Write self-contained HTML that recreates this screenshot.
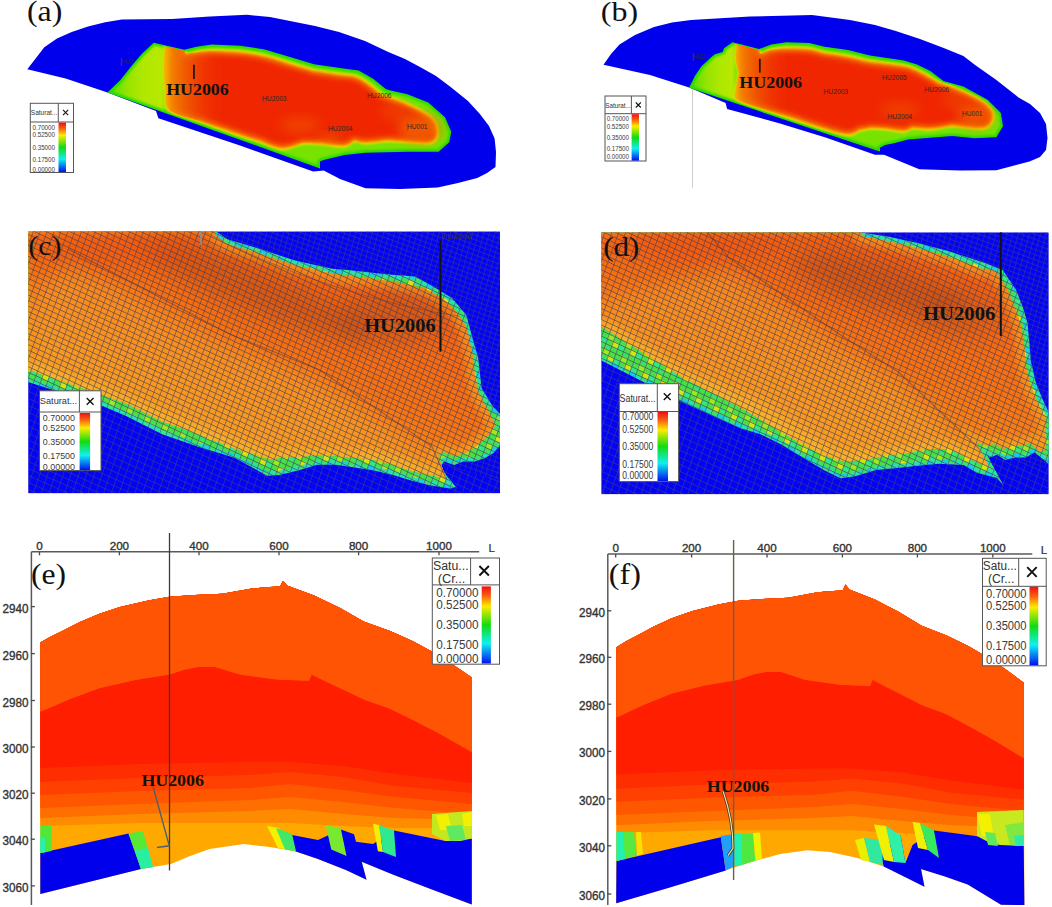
<!DOCTYPE html>
<html><head><meta charset="utf-8"><title>Saturation panels</title>
<style>html,body{margin:0;padding:0;background:#fff;} body{width:1052px;height:907px;overflow:hidden;} svg{display:block;}</style>
</head><body>
<svg width="1052" height="907" viewBox="0 0 1052 907">
<defs>
<linearGradient id="cbar" x1="0" y1="0" x2="0" y2="1">
 <stop offset="0" stop-color="#f01010"/>
 <stop offset="0.12" stop-color="#f86010"/>
 <stop offset="0.26" stop-color="#fcec00"/>
 <stop offset="0.5" stop-color="#10dc10"/>
 <stop offset="0.74" stop-color="#10f0f0"/>
 <stop offset="1" stop-color="#0010f0"/>
</linearGradient>
<filter id="blur1" x="-10%" y="-10%" width="120%" height="120%"><feGaussianBlur stdDeviation="1"/></filter>
<filter id="blur2" x="-10%" y="-10%" width="120%" height="120%"><feGaussianBlur stdDeviation="2"/></filter>
<filter id="blur3" x="-10%" y="-10%" width="120%" height="120%"><feGaussianBlur stdDeviation="3"/></filter>
<filter id="blur6" x="-30%" y="-30%" width="160%" height="160%"><feGaussianBlur stdDeviation="6"/></filter>
<filter id="blur10" x="-50%" y="-50%" width="200%" height="200%"><feGaussianBlur stdDeviation="10"/></filter>
<linearGradient id="ovga" gradientUnits="userSpaceOnUse" x1="108" y1="0" x2="166" y2="0"><stop offset="0" stop-color="#30d800"/><stop offset="0.12" stop-color="#68e000"/><stop offset="0.35" stop-color="#98e400"/><stop offset="0.6" stop-color="#b0e800"/><stop offset="0.93" stop-color="#b8e800"/><stop offset="1" stop-color="#78e200"/></linearGradient><clipPath id="coreclipa"><path d="M323.2,158.8 L323.4,158.7 L344.3,153.6 L344.5,153.6 L365.4,151.5 L365.5,151.5 L407.4,150.4 L407.4,150.4 L438.2,150.4 L448.0,141.6 L449.9,131.9 L443.9,118.0 L427.6,103.7 L407.0,95.4 L390.3,91.8 L390.2,91.7 L385.4,90.2 L385.0,90.0 L372.8,80.1 L358.2,71.7 L339.8,69.3 L339.8,69.3 L313.8,65.6 L313.6,65.5 L289.6,58.2 L264.4,50.7 L239.9,47.0 L211.8,45.7 L196.8,48.0 L184.6,51.1 L184.0,51.1 L154.2,44.1 L142.6,55.0 L133.5,65.6 L121.4,80.8 L121.3,80.9 L109.9,91.9 L318.7,166.6 L318.7,161.5 L318.8,161.0 L319.1,160.6 L319.5,160.3Z"/></clipPath><linearGradient id="glowa" gradientUnits="userSpaceOnUse" x1="165" y1="0" x2="225" y2="0"><stop offset="0" stop-color="#f6b000" stop-opacity="1"/><stop offset="0.12" stop-color="#f48800" stop-opacity="0.9"/><stop offset="0.45" stop-color="#f06400" stop-opacity="0.6"/><stop offset="1" stop-color="#f03000" stop-opacity="0"/></linearGradient><clipPath id="cclipa"><path d="M166.4,37.9 C163.6,39.2 165.8,45.1 165.5,50.1 C165.2,55.1 164.4,61.2 164.5,68.0 C164.6,74.7 165.1,83.6 166.0,90.6 C166.9,97.6 164.1,105.1 169.8,110.2 C175.6,115.3 195.4,119.3 200.5,121.1 C205.6,122.9 193.8,118.7 200.5,121.1 C207.2,123.5 230.5,132.0 240.5,135.4 C250.5,138.8 257.1,140.5 260.4,141.6 C263.8,142.6 256.9,140.4 260.5,141.6 C264.0,142.8 274.9,148.3 281.9,148.6 C288.8,148.9 298.9,144.2 302.4,143.3 C305.9,142.5 299.3,143.2 302.8,143.3 C306.4,143.4 320.2,143.8 323.7,143.9 C327.2,144.0 320.4,143.6 323.8,143.9 C327.3,144.3 339.2,146.5 344.3,146.0 C349.4,145.5 352.6,141.8 354.3,141.0 C356.1,140.1 354.6,140.8 354.8,140.8 C355.0,140.8 353.5,140.5 355.3,140.8 C357.1,141.2 360.4,142.9 365.6,142.9 C370.7,142.9 382.8,141.2 386.3,140.8 C389.7,140.5 382.9,140.6 386.5,140.8 C390.0,141.0 404.0,141.6 407.5,141.8 C411.0,142.0 404.1,141.6 407.5,141.8 C410.9,142.0 423.3,143.3 428.0,142.9 C432.6,142.4 433.9,141.0 435.4,139.2 C436.9,137.3 437.5,135.0 437.1,131.9 C436.8,128.7 435.6,123.5 433.3,120.2 C431.0,116.9 427.6,115.0 423.2,112.3 C418.8,109.6 412.3,106.4 406.8,104.0 C401.3,101.6 394.2,99.1 390.1,97.7 C386.1,96.3 383.9,95.9 382.6,95.4 C381.2,95.0 384.1,96.9 382.0,95.2 C380.0,93.5 374.4,88.3 370.1,85.2 C365.9,82.2 361.5,78.7 356.5,76.9 C351.4,75.1 342.6,74.9 339.8,74.5 C337.0,74.1 344.1,75.1 339.8,74.5 C335.4,73.8 318.1,71.2 313.8,70.5 C309.4,69.8 317.6,71.6 313.6,70.4 C309.5,69.3 293.6,64.6 289.6,63.4 C285.6,62.3 293.7,64.7 289.6,63.4 C285.4,62.2 273.0,57.9 264.7,56.0 C256.4,54.1 248.6,52.8 239.9,52.0 C231.1,51.2 219.2,50.9 212.0,51.0 C204.9,51.1 201.4,52.0 197.2,52.5 C193.0,53.0 188.6,53.8 186.7,54.1 C184.9,54.3 186.4,54.1 186.2,54.1 C186.0,54.0 185.8,54.0 185.7,53.9 C185.6,53.8 185.4,53.6 185.3,53.5 C185.2,53.4 185.6,54.9 185.1,53.0 C184.5,51.2 184.9,44.7 181.8,42.2 C178.7,39.7 169.1,36.6 166.4,37.9Z"/></clipPath><linearGradient id="ovgb" gradientUnits="userSpaceOnUse" x1="689" y1="0" x2="736" y2="0"><stop offset="0" stop-color="#30d800"/><stop offset="0.12" stop-color="#68e000"/><stop offset="0.4" stop-color="#98e400"/><stop offset="0.7" stop-color="#b0e800"/><stop offset="0.93" stop-color="#b8e800"/><stop offset="1" stop-color="#78e200"/></linearGradient><clipPath id="coreclipb"><path d="M876.2,149.0 L876.2,149.0 L878.7,149.8 L878.7,147.8 L878.8,147.4 L879.0,147.0 L879.4,146.7 L884.4,143.9 L884.8,143.7 L893.7,142.0 L907.9,138.1 L908.1,138.1 L952.2,134.8 L952.4,134.8 L974.4,137.0 L995.6,135.9 L1001.6,125.9 L999.7,113.5 L986.8,100.8 L962.9,87.7 L943.2,82.3 L942.7,82.0 L929.6,72.1 L916.5,65.6 L903.5,61.8 L869.8,56.8 L869.7,56.8 L847.8,51.3 L824.3,48.0 L824.2,48.0 L809.1,44.3 L786.6,43.5 L771.6,45.7 L759.5,50.2 L759.1,50.3 L758.7,50.3 L732.8,43.6 L725.1,49.1 L723.8,52.5 L723.5,52.9 L723.0,53.2 L715.6,55.5 L712.8,57.6 L702.3,67.4 L696.3,76.3 L690.9,87.0 L875.6,148.8 L875.6,148.8Z"/></clipPath><linearGradient id="glowb" gradientUnits="userSpaceOnUse" x1="735" y1="0" x2="790" y2="0"><stop offset="0" stop-color="#f6b000" stop-opacity="1"/><stop offset="0.12" stop-color="#f48800" stop-opacity="0.9"/><stop offset="0.45" stop-color="#f06400" stop-opacity="0.6"/><stop offset="1" stop-color="#f03000" stop-opacity="0"/></linearGradient><clipPath id="cclipb"><path d="M737.4,37.9 C734.3,38.8 737.1,46.4 737.0,48.1 C736.9,49.8 737.1,46.1 737.0,48.1 C736.9,50.1 735.9,56.2 736.3,60.3 C736.7,64.3 738.8,70.1 739.3,72.2 C739.8,74.3 739.8,69.8 739.3,72.8 C738.8,75.9 736.3,86.1 736.3,90.7 C736.3,95.3 731.9,96.4 739.2,100.3 C746.6,104.3 766.0,109.7 780.5,114.6 C794.9,119.4 814.7,126.0 826.0,129.4 C837.3,132.7 842.8,134.4 848.3,134.6 C853.9,134.8 857.4,131.3 859.3,130.6 C861.1,129.9 857.6,130.9 859.5,130.5 C861.5,130.1 869.0,128.6 871.0,128.2 C873.0,127.8 868.8,128.1 871.4,128.2 C873.9,128.3 883.8,129.0 886.3,129.1 C888.8,129.3 883.5,128.8 886.4,129.1 C889.3,129.5 899.3,131.4 903.6,131.3 C907.9,131.1 910.6,128.6 912.1,128.1 C913.6,127.6 909.7,127.8 912.7,128.0 C915.7,128.2 923.7,129.5 930.2,129.1 C936.8,128.7 948.4,126.4 952.1,125.8 C955.8,125.3 948.7,125.4 952.4,125.8 C956.2,126.2 968.7,127.8 974.4,128.0 C980.1,128.2 983.8,128.4 986.8,127.0 C989.8,125.5 992.0,122.1 992.6,119.1 C993.2,116.2 993.1,112.7 990.6,109.3 C988.2,105.9 984.5,102.5 978.0,98.8 C971.5,95.0 958.3,89.5 951.7,86.8 C945.2,84.1 940.9,83.2 938.6,82.4 C936.4,81.7 940.6,83.6 938.3,82.3 C936.1,81.0 929.2,76.7 925.2,74.5 C921.2,72.3 917.9,70.5 914.2,69.1 C910.6,67.7 910.9,67.1 903.5,65.9 C896.1,64.6 875.4,62.2 869.8,61.5 C864.2,60.8 873.3,62.3 869.7,61.5 C866.0,60.6 855.4,57.9 847.7,56.5 C840.1,55.0 827.8,53.3 823.8,52.7 C819.8,52.0 826.1,53.3 823.6,52.7 C821.1,52.0 815.0,49.7 808.8,49.0 C802.6,48.3 792.8,48.1 786.6,48.3 C780.3,48.5 775.5,49.2 771.4,50.1 C767.2,51.0 763.3,53.1 761.5,53.7 C759.8,54.3 761.1,53.8 760.9,53.8 C760.7,53.8 760.5,53.7 760.4,53.7 C760.2,53.6 760.0,53.5 759.9,53.3 C759.8,53.2 760.3,54.6 759.6,52.8 C758.9,51.0 759.6,44.8 755.9,42.3 C752.2,39.8 740.6,36.9 737.4,37.9Z"/></clipPath>
<pattern id="gridO" width="6.5" height="5.0" patternUnits="userSpaceOnUse" patternTransform="rotate(25) skewX(5)">
 <path d="M0,0 H6.5 M0,0 V5.0" stroke="#3e3858" stroke-width="1.2" fill="none" opacity="0.85"/>
</pattern>
<pattern id="gridB" width="5.4" height="4.8" patternUnits="userSpaceOnUse" patternTransform="rotate(20) skewX(5)">
 <path d="M0,0 H5.4 M0,0 V4.8" stroke="#4a4a66" stroke-width="0.9" fill="none" opacity="0.85"/>
</pattern>
<pattern id="gridB2" width="7.4" height="6.4" patternUnits="userSpaceOnUse" patternTransform="rotate(24) skewX(5)">
 <path d="M0,0 H7.4 M0,0 V6.4" stroke="#4e4e68" stroke-width="1" fill="none" opacity="0.85"/>
</pattern>
<pattern id="bandP" width="19.5" height="15" patternUnits="userSpaceOnUse" patternTransform="rotate(25) skewX(5)">
 <rect width="19.5" height="15" fill="#28e0b0"/>
 <rect x="0" y="0" width="6.5" height="5" fill="#40e070"/>
 <rect x="13" y="0" width="6.5" height="5" fill="#18d0e0"/>
 <rect x="6.5" y="5" width="6.5" height="5" fill="#30e890"/>
 <rect x="0" y="10" width="6.5" height="5" fill="#18c8e8"/>
 <rect x="13" y="10" width="6.5" height="5" fill="#40e070"/>
</pattern>
<pattern id="bandQ" width="19.5" height="15" patternUnits="userSpaceOnUse" patternTransform="rotate(25) skewX(5)">
 <rect width="19.5" height="15" fill="#48e048"/>
 <rect x="6.5" y="0" width="6.5" height="5" fill="#a0e820"/>
 <rect x="0" y="5" width="6.5" height="5" fill="#30e888"/>
 <rect x="13" y="5" width="6.5" height="5" fill="#d8e410"/>
 <rect x="6.5" y="10" width="6.5" height="5" fill="#38e070"/>
</pattern>
<linearGradient id="surfC" gradientUnits="userSpaceOnUse" x1="300" y1="250" x2="220" y2="480">
 <stop offset="0" stop-color="#f46010"/>
 <stop offset="0.45" stop-color="#f67212"/>
 <stop offset="0.8" stop-color="#f88e18"/>
 <stop offset="1" stop-color="#f8a822"/>
</linearGradient>
<linearGradient id="surfD" gradientUnits="userSpaceOnUse" x1="860" y1="240" x2="800" y2="480">
 <stop offset="0" stop-color="#f46010"/>
 <stop offset="0.45" stop-color="#f67212"/>
 <stop offset="0.8" stop-color="#f88e18"/>
 <stop offset="1" stop-color="#f8a822"/>
</linearGradient>
<clipPath id="clipc"><rect x="28.3" y="231.5" width="471.7" height="261.8"/></clipPath><clipPath id="sclipc"><path d="M20.0,225.0 L216.0,225.0 L216.0,235.0 L226.0,243.5 L256.0,252.5 L294.0,265.0 L332.0,273.5 L350.0,276.0 L370.0,278.5 L393.7,281.8 L422.8,287.7 L440.2,296.4 L454.8,309.5 L466.4,327.0 L469.6,340.0 L473.0,357.0 L474.7,374.0 L478.1,391.3 L485.0,405.0 L491.8,417.0 L495.3,425.5 L488.4,435.8 L476.4,446.0 L466.2,452.9 L454.2,456.0 L444.0,452.0 L438.0,455.0 L446.3,478.9 L431.0,475.1 L412.0,471.3 L393.0,464.7 L374.0,460.0 L355.0,458.0 L336.0,456.1 L317.0,455.2 L298.0,457.1 L279.0,458.0 L270.6,459.5 L234.5,448.6 L198.4,434.2 L162.2,421.5 L126.1,403.5 L100.8,394.4 L28.0,369.8 L20.0,367.0Z"/></clipPath><clipPath id="clipd"><rect x="601.4" y="232.4" width="447.19999999999993" height="261.79999999999995"/></clipPath><clipPath id="sclipd"><path d="M590.0,225.0 L861.8,225.0 L861.8,236.0 L890.0,241.5 L917.0,248.0 L946.0,256.0 L981.0,268.5 L996.0,271.0 L1007.7,289.8 L1016.0,309.7 L1021.0,326.2 L1024.2,346.0 L1025.9,365.9 L1030.8,385.7 L1037.5,402.3 L1044.0,415.5 L1046.0,418.0 L1046.0,450.0 L1040.0,452.0 L1030.0,443.0 L1022.0,446.0 L1012.0,446.0 L1003.0,449.0 L994.0,444.0 L986.0,446.0 L976.0,442.0 L992.0,472.0 L988.0,466.0 L974.0,461.0 L960.0,454.0 L949.2,449.0 L928.3,449.0 L907.4,453.2 L886.4,455.3 L865.5,459.5 L844.6,461.6 L823.7,455.3 L802.8,444.8 L781.8,432.3 L761.0,419.7 L740.0,407.2 L682.6,377.5 L601.4,326.5 L590.0,322.0Z"/></clipPath></defs>
<rect width="1052" height="907" fill="#fff"/>
<path d="M27.3,69.3 L36.0,58.0 L44.3,47.3 L57.0,38.5 L71.7,32.0 L88.0,26.5 L105.2,22.2 L121.9,19.4 L172.0,19.1 L210.0,16.5 L247.0,14.8 L270.0,17.0 L290.0,21.0 L315.0,26.0 L339.0,32.1 L365.0,41.0 L388.3,51.9 L405.0,59.0 L420.0,67.0 L436.0,76.0 L450.0,86.5 L468.0,101.0 L479.7,113.7 L489.0,126.0 L494.6,138.4 L496.0,152.0 L495.5,167.0 L487.0,173.0 L477.3,178.0 L458.0,183.0 L437.7,187.5 L400.0,189.0 L365.5,188.3 L340.0,179.0 L323.7,170.5 L313.2,171.6 L240.0,145.4 L158.4,118.2 L156.0,111.0 L107.5,92.6 L65.6,78.4Z" fill="#0000ec" />
<path d="M323.7,160.0 L344.6,154.9 L365.5,152.8 L407.4,151.7 L438.7,151.7 L449.2,142.3 L451.3,131.8 L445.0,117.2 L428.3,102.6 L407.4,94.2 L390.6,90.5 L385.8,89.0 L373.5,79.0 L358.6,70.4 L340.0,68.0 L314.0,64.3 L290.0,57.0 L264.7,49.4 L240.0,45.7 L211.7,44.4 L196.5,46.7 L184.3,49.8 L153.8,42.7 L141.7,54.1 L132.5,64.8 L120.4,80.0 L107.5,92.4 L320.0,168.4 L320.0,161.5Z" fill="#28dc00" />
<path d="M322.7,157.6 L323.1,157.5 L344.0,152.4 L344.3,152.3 L365.2,150.2 L365.4,150.2 L407.3,149.1 L407.4,149.1 L437.7,149.1 L446.8,140.9 L448.6,132.1 L442.8,118.8 L426.9,104.8 L406.6,96.7 L390.0,93.0 L389.8,93.0 L385.0,91.5 L384.2,91.0 L372.0,81.1 L357.8,72.9 L339.7,70.6 L339.6,70.6 L313.6,66.9 L313.2,66.8 L289.2,59.5 L264.1,51.9 L239.7,48.3 L211.8,47.0 L197.0,49.3 L184.9,52.3 L183.7,52.3 L154.6,45.5 L143.6,55.9 L134.5,66.5 L122.4,81.6 L122.2,81.9 L112.3,91.4 L317.4,164.7 L317.4,161.5 L317.6,160.5 L318.2,159.7 L319.0,159.1Z" fill="url(#ovga)" filter="url(#blur1)"/>
<g clip-path="url(#coreclipa)">
<path d="M165.0,36.0 C168.2,34.5 179.4,38.2 183.0,41.0 C186.6,43.8 184.2,50.9 186.5,52.6 C188.8,54.3 192.8,51.5 197.0,51.0 C201.2,50.5 204.8,49.6 212.0,49.5 C219.2,49.4 231.2,49.7 240.0,50.5 C248.8,51.3 256.7,52.6 265.0,54.5 C273.3,56.4 281.8,59.6 290.0,62.0 C298.2,64.4 305.7,67.2 314.0,69.0 C322.3,70.8 332.8,71.9 340.0,73.0 C347.2,74.1 351.8,73.7 357.0,75.5 C362.2,77.3 366.7,80.9 371.0,84.0 C375.3,87.1 379.7,92.0 383.0,94.0 C386.3,96.0 386.5,94.9 390.6,96.3 C394.7,97.7 401.8,100.1 407.4,102.6 C413.0,105.0 419.5,108.2 424.0,111.0 C428.5,113.8 432.2,115.8 434.6,119.3 C437.1,122.8 438.4,128.3 438.7,131.8 C439.0,135.3 438.4,138.1 436.7,140.2 C435.0,142.3 433.2,143.9 428.3,144.4 C423.4,144.9 414.4,143.7 407.4,143.3 C400.4,143.0 393.4,142.1 386.4,142.3 C379.4,142.5 370.7,144.4 365.5,144.4 C360.3,144.4 358.5,141.8 355.0,142.3 C351.5,142.8 349.8,147.0 344.6,147.5 C339.4,148.0 330.7,145.8 323.7,145.4 C316.7,145.0 309.8,144.0 302.8,144.8 C295.8,145.6 288.9,150.5 281.8,150.2 C274.7,149.9 267.0,145.2 260.0,143.0 C253.0,140.8 250.0,140.2 240.0,136.8 C230.0,133.4 211.9,126.8 200.0,122.5 C188.1,118.2 174.4,116.6 168.5,111.3 C162.6,106.0 165.4,98.0 164.5,90.8 C163.6,83.6 163.1,74.8 163.0,68.0 C162.9,61.2 163.7,55.3 164.0,50.0 C164.3,44.7 161.8,37.5 165.0,36.0Z" fill="#f4e000" filter="url(#blur1)"/>
<path d="M166.5,38.1 C163.8,39.4 165.9,45.1 165.6,50.1 C165.3,55.1 164.5,61.2 164.6,68.0 C164.7,74.7 165.2,83.6 166.1,90.6 C167.0,97.6 164.2,105.0 169.9,110.1 C175.6,115.2 195.4,119.2 200.5,121.0 C205.6,122.8 193.9,118.6 200.5,121.0 C207.2,123.4 230.5,131.9 240.5,135.3 C250.5,138.7 257.1,140.4 260.5,141.5 C263.8,142.5 256.9,140.3 260.5,141.5 C264.1,142.7 274.9,148.2 281.9,148.5 C288.8,148.8 298.9,144.1 302.4,143.3 C305.9,142.4 299.3,143.1 302.8,143.2 C306.4,143.3 320.2,143.7 323.7,143.8 C327.2,143.9 320.4,143.5 323.9,143.8 C327.3,144.2 339.2,146.4 344.3,145.9 C349.4,145.4 352.5,141.7 354.3,140.9 C356.0,140.0 354.6,140.7 354.8,140.7 C355.0,140.7 353.5,140.4 355.3,140.7 C357.1,141.1 360.4,142.8 365.6,142.8 C370.7,142.8 382.8,141.1 386.2,140.7 C389.7,140.4 382.9,140.5 386.5,140.7 C390.0,140.9 404.0,141.5 407.5,141.7 C411.0,141.9 404.1,141.5 407.5,141.7 C410.9,141.9 423.3,143.2 428.0,142.8 C432.6,142.3 433.8,140.9 435.3,139.1 C436.8,137.3 437.4,135.0 437.0,131.9 C436.7,128.7 435.5,123.5 433.2,120.3 C430.9,117.0 427.5,115.1 423.1,112.4 C418.7,109.7 412.3,106.5 406.8,104.1 C401.2,101.6 394.1,99.2 390.1,97.8 C386.1,96.4 383.9,96.0 382.5,95.5 C381.2,95.1 384.1,96.9 382.0,95.2 C379.9,93.5 374.3,88.3 370.1,85.3 C365.8,82.3 361.5,78.8 356.4,77.0 C351.4,75.2 342.5,75.0 339.8,74.6 C337.0,74.2 344.1,75.2 339.8,74.6 C335.4,73.9 318.1,71.3 313.8,70.6 C309.4,69.9 317.6,71.7 313.6,70.5 C309.5,69.4 293.6,64.7 289.6,63.5 C285.6,62.4 293.7,64.8 289.5,63.5 C285.4,62.3 272.9,58.0 264.6,56.1 C256.4,54.2 248.6,52.9 239.8,52.1 C231.1,51.3 219.2,51.0 212.1,51.1 C204.9,51.2 201.4,52.1 197.2,52.6 C193.0,53.1 188.6,53.9 186.7,54.2 C184.9,54.4 186.4,54.2 186.2,54.2 C186.0,54.1 185.8,54.1 185.6,54.0 C185.5,53.9 185.3,53.7 185.2,53.6 C185.1,53.4 185.6,54.9 185.0,53.1 C184.4,51.2 184.8,44.8 181.7,42.3 C178.6,39.8 169.1,36.8 166.5,38.1Z" fill="#f6a000" filter="url(#blur1)"/>
<path d="M167.7,39.9 C165.5,41.0 167.3,45.5 167.0,50.2 C166.7,54.9 165.9,61.3 166.0,68.0 C166.1,74.7 166.6,83.6 167.5,90.4 C168.3,97.3 165.5,104.2 171.1,109.0 C176.7,113.9 196.0,117.9 201.0,119.7 C206.0,121.4 194.4,117.3 201.0,119.7 C207.7,122.1 231.0,130.5 240.9,134.0 C250.9,137.4 257.6,139.1 260.9,140.1 C264.2,141.2 257.4,139.0 260.9,140.2 C264.4,141.3 275.1,146.8 281.9,147.1 C288.8,147.4 298.6,142.8 302.1,141.9 C305.5,141.0 299.3,141.7 302.9,141.8 C306.5,141.9 320.3,142.3 323.8,142.4 C327.3,142.5 320.6,142.1 324.0,142.4 C327.4,142.8 339.1,144.9 344.0,144.4 C349.0,144.0 351.9,140.5 353.7,139.6 C355.4,138.8 354.3,139.4 354.6,139.3 C354.9,139.3 353.7,139.0 355.6,139.4 C357.4,139.7 360.6,141.4 365.6,141.4 C370.7,141.4 382.6,139.7 386.1,139.3 C389.6,139.0 383.0,139.1 386.5,139.3 C390.1,139.5 404.0,140.1 407.5,140.3 C411.0,140.5 404.2,140.1 407.6,140.3 C410.9,140.5 423.2,141.7 427.7,141.4 C432.1,141.0 432.8,139.7 434.1,138.1 C435.4,136.6 435.9,134.8 435.6,131.9 C435.2,129.1 434.2,124.2 432.0,121.1 C429.8,118.0 426.7,116.2 422.4,113.5 C418.1,110.9 411.6,107.8 406.2,105.4 C400.7,103.0 393.6,100.6 389.6,99.1 C385.6,97.7 383.6,97.3 382.1,96.9 C380.7,96.4 383.2,98.0 381.1,96.3 C378.9,94.6 373.4,89.4 369.3,86.4 C365.1,83.5 360.9,80.1 356.0,78.4 C351.0,76.6 342.3,76.4 339.6,76.0 C336.8,75.6 343.9,76.6 339.5,76.0 C335.2,75.3 317.9,72.6 313.5,72.0 C309.1,71.3 317.2,73.1 313.2,71.9 C309.1,70.7 293.2,66.0 289.2,64.9 C285.2,63.7 293.3,66.1 289.1,64.9 C285.0,63.6 272.6,59.3 264.3,57.4 C256.1,55.5 248.4,54.3 239.7,53.5 C231.0,52.7 219.2,52.4 212.1,52.5 C205.0,52.6 201.6,53.5 197.4,54.0 C193.2,54.5 188.9,55.3 187.0,55.6 C185.0,55.8 186.2,55.6 185.9,55.5 C185.5,55.5 185.2,55.3 184.9,55.1 C184.6,54.9 184.3,54.7 184.1,54.4 C183.9,54.1 184.2,55.3 183.6,53.5 C183.0,51.6 183.3,45.7 180.6,43.4 C178.0,41.2 170.0,38.7 167.7,39.9Z" fill="#f26a00" filter="url(#blur1)"/>
<path d="M170.0,43.1 C168.5,43.9 169.7,46.2 169.5,50.3 C169.2,54.5 168.4,61.3 168.5,68.0 C168.6,74.6 169.2,83.6 170.0,90.1 C170.8,96.6 168.0,102.6 173.3,107.2 C178.6,111.7 197.1,115.6 201.8,117.3 C206.6,119.0 195.2,114.9 201.9,117.3 C208.5,119.7 231.8,128.2 241.7,131.6 C251.7,135.0 258.3,136.7 261.6,137.7 C265.0,138.8 258.3,136.7 261.7,137.8 C265.1,138.9 275.4,144.2 282.0,144.5 C288.6,144.8 297.9,140.3 301.4,139.5 C304.9,138.6 299.2,139.2 303.0,139.3 C306.7,139.4 320.3,139.8 323.9,139.9 C327.4,140.0 321.0,139.6 324.2,139.9 C327.5,140.3 338.8,142.3 343.6,141.9 C348.3,141.4 350.8,138.2 352.5,137.4 C354.3,136.5 353.7,136.9 354.3,136.8 C354.9,136.8 354.2,136.6 356.1,136.9 C358.0,137.2 360.8,138.9 365.8,138.8 C370.7,138.8 382.4,137.2 385.9,136.8 C389.3,136.5 383.0,136.6 386.7,136.8 C390.3,137.0 404.2,137.6 407.7,137.8 C411.2,138.0 404.4,137.6 407.7,137.8 C410.9,138.0 423.1,139.1 427.1,138.8 C431.2,138.6 431.0,137.6 431.9,136.4 C432.9,135.3 433.3,134.3 433.0,132.0 C432.6,129.7 431.9,125.3 429.9,122.6 C427.9,119.9 425.2,118.2 421.0,115.7 C416.9,113.2 410.6,110.0 405.2,107.6 C399.8,105.3 392.8,102.9 388.8,101.5 C384.9,100.1 383.0,99.8 381.4,99.3 C379.8,98.7 381.7,100.0 379.5,98.2 C377.2,96.4 371.9,91.4 367.8,88.5 C363.7,85.6 359.9,82.5 355.1,80.8 C350.3,79.1 341.9,78.8 339.2,78.4 C336.5,78.1 343.5,79.1 339.2,78.4 C334.8,77.8 317.6,75.1 313.2,74.4 C308.7,73.7 316.6,75.5 312.5,74.3 C308.3,73.1 292.5,68.4 288.5,67.3 C284.5,66.1 292.5,68.5 288.4,67.3 C284.3,66.0 271.9,61.8 263.8,59.9 C255.6,58.0 248.1,56.8 239.5,56.0 C230.9,55.2 219.1,54.9 212.2,55.0 C205.2,55.1 201.8,56.0 197.7,56.5 C193.5,57.0 189.4,57.8 187.3,58.0 C185.3,58.3 186.0,58.1 185.4,58.0 C184.7,57.9 184.1,57.6 183.6,57.3 C183.0,56.9 182.5,56.4 182.1,55.9 C181.7,55.4 181.8,55.9 181.2,54.2 C180.6,52.4 180.5,47.3 178.6,45.5 C176.7,43.6 171.5,42.3 170.0,43.1Z" fill="#f02800" filter="url(#blur2)"/>
<ellipse cx="300" cy="125" rx="20" ry="8" fill="#f06000" opacity="0.5" filter="url(#blur6)"/>
<ellipse cx="330" cy="138" rx="12" ry="5" fill="#f07800" opacity="0.5" filter="url(#blur6)"/>
<ellipse cx="420" cy="128" rx="22" ry="14" fill="#f27000" opacity="0.7" filter="url(#blur6)"/>
<ellipse cx="395" cy="112" rx="14" ry="8" fill="#f06000" opacity="0.4" filter="url(#blur6)"/>
<rect x="163" y="0" width="62" height="200" fill="url(#glowa)" clip-path="url(#cclipa)" filter="url(#blur1)"/>
</g>
<text x="121.0" y="63.5" font-family="'Liberation Sans', sans-serif" font-size="6.6" font-weight="normal" fill="#2a2a2a" textLength="12.3" lengthAdjust="spacingAndGlyphs" >HU2</text>
<line x1="121.3" y1="58.0" x2="121.3" y2="66.0" stroke="#b03030" stroke-width="0.6" />
<text x="262.0" y="100.5" font-family="'Liberation Sans', sans-serif" font-size="6.6" font-weight="normal" fill="#2a2a2a" textLength="24.6" lengthAdjust="spacingAndGlyphs" >HU2003</text>
<line x1="262.3" y1="95.0" x2="262.3" y2="103.0" stroke="#b03030" stroke-width="0.6" />
<text x="367.0" y="97.5" font-family="'Liberation Sans', sans-serif" font-size="6.6" font-weight="normal" fill="#2a2a2a" textLength="24.6" lengthAdjust="spacingAndGlyphs" >HU2006</text>
<line x1="367.3" y1="92.0" x2="367.3" y2="100.0" stroke="#b03030" stroke-width="0.6" />
<text x="328.0" y="131.0" font-family="'Liberation Sans', sans-serif" font-size="6.6" font-weight="normal" fill="#2a2a2a" textLength="24.6" lengthAdjust="spacingAndGlyphs" >HU2004</text>
<line x1="328.3" y1="125.5" x2="328.3" y2="133.5" stroke="#b03030" stroke-width="0.6" />
<text x="407.0" y="128.5" font-family="'Liberation Sans', sans-serif" font-size="6.6" font-weight="normal" fill="#2a2a2a" textLength="20.5" lengthAdjust="spacingAndGlyphs" >HU001</text>
<line x1="407.3" y1="123.0" x2="407.3" y2="131.0" stroke="#b03030" stroke-width="0.6" />
<text x="166.2" y="95.4" font-family="'Liberation Serif', serif" font-size="15.82" font-weight="bold" fill="#111" textLength="62.5" lengthAdjust="spacingAndGlyphs" >HU2006</text>
<line x1="193.9" y1="64.7" x2="193.9" y2="79" stroke="#111" stroke-width="1.7" />
<path d="M603.5,64.8 L611.0,54.0 L619.5,44.5 L635.0,35.0 L654.0,27.0 L672.0,22.5 L691.0,20.0 L750.0,16.5 L812.0,15.0 L850.0,20.0 L875.0,25.0 L895.8,31.0 L920.0,39.0 L943.7,48.0 L963.4,56.0 L974.4,64.4 L996.4,79.9 L1018.5,97.5 L1030.0,104.0 L1040.0,113.0 L1046.0,124.0 L1047.5,138.0 L1046.0,150.0 L1040.0,157.0 L1029.5,161.5 L996.4,170.3 L960.0,170.5 L919.3,169.2 L884.0,154.8 L875.0,154.8 L825.6,137.6 L780.0,123.4 L727.1,109.0 L725.6,103.0 L689.1,87.6 L650.0,75.0Z" fill="#0000ec" />
<path d="M875.8,150.2 L875.8,150.2 L880.0,151.6 L880.0,147.8 L885.0,145.0 L894.0,143.3 L908.2,139.4 L952.3,136.1 L974.4,138.3 L996.4,137.2 L1003.0,126.2 L1000.9,112.9 L987.6,99.7 L963.4,86.5 L943.5,81.0 L930.3,71.0 L917.0,64.4 L903.8,60.5 L870.0,55.5 L848.0,50.0 L824.5,46.7 L809.3,43.0 L786.5,42.2 L771.3,44.4 L759.0,49.0 L732.5,42.2 L724.0,48.3 L722.6,52.0 L715.0,54.3 L712.0,56.6 L701.3,66.5 L695.2,75.6 L689.1,87.8 L875.2,150.0Z" fill="#28dc00" />
<path d="M876.6,147.7 L876.6,147.7 L877.4,148.0 L877.4,147.8 L877.6,146.9 L878.0,146.1 L878.7,145.6 L883.7,142.7 L884.5,142.4 L893.4,140.8 L907.5,136.9 L908.0,136.8 L952.1,133.5 L952.6,133.5 L974.5,135.7 L994.9,134.7 L1000.3,125.7 L998.5,114.1 L986.0,101.8 L962.4,88.9 L942.8,83.5 L941.9,83.1 L928.9,73.2 L916.0,66.8 L903.2,63.0 L869.6,58.1 L869.4,58.0 L847.5,52.6 L824.1,49.3 L823.9,49.2 L808.9,45.6 L786.6,44.8 L771.9,46.9 L759.9,51.4 L759.1,51.6 L758.4,51.5 L733.0,45.0 L726.2,50.0 L725.0,52.9 L724.4,53.9 L723.4,54.5 L716.2,56.7 L713.7,58.6 L703.3,68.2 L697.5,76.9 L692.8,86.3 L876.1,147.5 L876.1,147.5Z" fill="url(#ovgb)" filter="url(#blur1)"/>
<g clip-path="url(#coreclipb)">
<path d="M736.0,36.0 C739.6,34.8 752.8,38.3 757.0,41.0 C761.2,43.7 758.7,51.0 761.0,52.3 C763.3,53.6 766.8,49.5 771.0,48.6 C775.2,47.7 780.2,47.0 786.5,46.8 C792.8,46.6 802.8,46.8 809.0,47.5 C815.2,48.2 817.5,50.0 824.0,51.2 C830.5,52.5 840.3,53.5 848.0,55.0 C855.7,56.5 860.7,58.4 870.0,60.0 C879.3,61.6 896.3,63.1 903.8,64.4 C911.3,65.7 911.1,66.2 914.8,67.7 C918.5,69.2 921.8,71.0 925.9,73.2 C930.0,75.4 934.7,79.0 939.1,81.0 C943.5,83.0 945.7,82.7 952.3,85.4 C958.9,88.2 972.2,93.7 978.8,97.5 C985.4,101.3 989.4,104.8 992.0,108.5 C994.6,112.2 994.9,116.2 994.2,119.5 C993.5,122.8 990.9,126.7 987.6,128.4 C984.3,130.1 980.3,129.7 974.4,129.5 C968.5,129.3 959.6,127.1 952.3,127.3 C944.9,127.5 936.9,130.2 930.3,130.6 C923.7,131.0 917.0,129.1 912.6,129.5 C908.2,129.9 908.2,132.6 903.8,132.8 C899.4,133.0 891.6,131.1 886.2,130.6 C880.8,130.1 875.7,129.5 871.3,129.7 C866.9,129.9 863.6,130.9 859.8,132.0 C856.0,133.1 854.1,136.4 848.4,136.2 C842.7,136.0 837.0,134.2 825.6,130.8 C814.2,127.4 794.6,120.9 780.0,116.0 C765.4,111.1 745.5,105.7 738.0,101.5 C730.5,97.3 734.8,95.6 734.8,90.8 C734.8,86.0 737.8,77.7 737.8,72.6 C737.8,67.5 735.2,64.5 734.8,60.4 C734.4,56.3 735.3,52.1 735.5,48.0 C735.7,43.9 732.4,37.2 736.0,36.0Z" fill="#f4e000" filter="url(#blur1)"/>
<path d="M737.5,38.0 C734.4,39.0 737.2,46.4 737.1,48.1 C737.0,49.7 737.2,46.1 737.1,48.1 C737.0,50.1 736.0,56.2 736.4,60.3 C736.8,64.3 738.9,70.1 739.4,72.2 C739.8,74.3 739.9,69.8 739.4,72.9 C738.9,75.9 736.5,86.1 736.4,90.7 C736.4,95.3 732.0,96.3 739.3,100.3 C746.6,104.2 766.1,109.6 780.5,114.5 C795.0,119.3 814.7,125.9 826.0,129.3 C837.3,132.6 842.8,134.3 848.3,134.5 C853.8,134.7 857.4,131.2 859.2,130.5 C861.1,129.8 857.5,130.8 859.5,130.4 C861.4,130.0 869.0,128.5 871.0,128.1 C873.0,127.7 868.8,128.0 871.4,128.1 C873.9,128.2 883.8,128.9 886.3,129.0 C888.8,129.2 883.5,128.7 886.4,129.0 C889.3,129.4 899.3,131.3 903.6,131.2 C907.9,131.0 910.5,128.5 912.0,128.0 C913.6,127.5 909.7,127.7 912.7,127.9 C915.7,128.1 923.7,129.4 930.2,129.0 C936.8,128.6 948.4,126.3 952.1,125.7 C955.8,125.2 948.7,125.3 952.5,125.7 C956.2,126.1 968.7,127.7 974.4,127.9 C980.1,128.1 983.7,128.3 986.7,126.9 C989.8,125.4 991.9,122.0 992.5,119.1 C993.1,116.2 993.0,112.7 990.5,109.4 C988.1,106.0 984.4,102.6 977.9,98.9 C971.5,95.1 958.3,89.6 951.7,86.9 C945.2,84.2 940.8,83.3 938.6,82.5 C936.4,81.8 940.5,83.7 938.3,82.4 C936.0,81.1 929.1,76.8 925.1,74.6 C921.1,72.4 917.8,70.6 914.2,69.2 C910.6,67.8 910.9,67.2 903.5,66.0 C896.1,64.7 875.4,62.3 869.8,61.6 C864.2,60.9 873.3,62.4 869.6,61.6 C866.0,60.7 855.3,58.0 847.7,56.6 C840.0,55.1 827.8,53.4 823.7,52.8 C819.7,52.1 826.1,53.4 823.6,52.8 C821.1,52.1 815.0,49.8 808.8,49.1 C802.6,48.4 792.8,48.2 786.6,48.4 C780.3,48.6 775.5,49.3 771.4,50.2 C767.2,51.1 763.3,53.2 761.6,53.8 C759.8,54.4 761.1,53.9 760.9,53.9 C760.7,53.9 760.5,53.8 760.3,53.7 C760.1,53.7 760.0,53.5 759.8,53.4 C759.7,53.2 760.2,54.7 759.5,52.8 C758.8,51.0 759.4,44.8 755.8,42.4 C752.1,39.9 740.6,37.1 737.5,38.0Z" fill="#f6a000" filter="url(#blur1)"/>
<path d="M738.8,39.8 C736.1,40.5 738.6,46.7 738.5,48.1 C738.4,49.5 738.6,46.2 738.5,48.2 C738.4,50.2 737.5,56.2 737.8,60.1 C738.2,64.1 740.2,69.7 740.7,71.9 C741.2,74.0 741.2,70.0 740.8,73.1 C740.3,76.2 737.9,86.3 737.9,90.6 C737.8,95.0 733.3,95.4 740.4,99.2 C747.6,102.9 766.6,108.4 781.0,113.2 C795.3,117.9 815.2,124.6 826.4,127.9 C837.6,131.2 842.8,132.9 848.2,133.1 C853.6,133.3 856.9,129.9 858.8,129.2 C860.6,128.5 857.2,129.5 859.2,129.1 C861.2,128.7 868.7,127.2 870.7,126.8 C872.8,126.4 868.9,126.6 871.5,126.7 C874.1,126.8 883.9,127.5 886.4,127.6 C888.9,127.8 883.7,127.3 886.6,127.6 C889.4,128.0 899.3,129.9 903.4,129.7 C907.6,129.6 910.0,127.2 911.5,126.7 C913.1,126.2 909.7,126.4 912.8,126.5 C915.9,126.7 923.7,127.9 930.2,127.6 C936.7,127.2 948.1,124.9 951.9,124.3 C955.6,123.8 948.8,124.0 952.6,124.3 C956.4,124.7 968.9,126.3 974.4,126.5 C980.0,126.7 983.2,126.8 986.0,125.5 C988.8,124.2 990.5,121.3 991.0,118.8 C991.5,116.2 991.6,113.2 989.3,110.1 C987.0,107.0 983.5,103.7 977.2,100.1 C970.8,96.4 957.7,90.9 951.2,88.2 C944.7,85.5 940.4,84.6 938.2,83.8 C935.9,83.1 939.9,84.9 937.6,83.6 C935.3,82.2 928.4,78.0 924.5,75.8 C920.5,73.7 917.2,71.9 913.7,70.5 C910.1,69.1 910.5,68.6 903.2,67.3 C895.8,66.1 875.3,63.7 869.6,63.0 C864.0,62.2 873.0,63.8 869.3,62.9 C865.6,62.1 855.1,59.4 847.4,57.9 C839.8,56.5 827.6,54.8 823.5,54.2 C819.5,53.5 825.8,54.7 823.3,54.1 C820.8,53.5 814.7,51.2 808.6,50.5 C802.5,49.8 792.8,49.6 786.6,49.8 C780.5,50.0 775.8,50.7 771.7,51.5 C767.6,52.4 763.8,54.5 762.0,55.1 C760.2,55.7 761.3,55.3 760.9,55.3 C760.5,55.3 760.1,55.2 759.7,55.0 C759.4,54.9 759.0,54.6 758.8,54.3 C758.5,54.0 758.8,55.1 758.2,53.3 C757.5,51.5 757.9,45.8 754.7,43.5 C751.5,41.3 741.5,39.0 738.8,39.8Z" fill="#f26a00" filter="url(#blur1)"/>
<path d="M741.2,42.9 C739.2,43.3 741.0,47.3 741.0,48.2 C741.0,49.1 741.1,46.4 741.0,48.3 C740.9,50.3 740.0,56.1 740.3,59.9 C740.7,63.7 742.7,69.0 743.1,71.3 C743.6,73.6 743.7,70.3 743.2,73.5 C742.8,76.7 740.6,86.5 740.4,90.4 C740.3,94.4 735.6,93.8 742.5,97.2 C749.3,100.6 767.6,106.1 781.7,110.8 C795.9,115.5 816.0,122.2 827.1,125.5 C838.1,128.8 842.9,130.2 848.1,130.5 C853.2,130.7 856.1,127.5 857.9,126.8 C859.7,126.2 856.7,127.0 858.7,126.6 C860.8,126.2 868.1,124.7 870.2,124.3 C872.4,123.9 868.9,124.1 871.6,124.2 C874.3,124.3 884.0,125.0 886.5,125.1 C889.1,125.3 884.1,124.8 886.9,125.1 C889.6,125.5 899.2,127.3 903.1,127.2 C907.1,127.0 909.0,124.9 910.7,124.4 C912.3,123.8 909.7,123.9 912.9,124.0 C916.2,124.1 923.6,125.4 930.1,125.1 C936.5,124.7 947.7,122.4 951.5,121.9 C955.3,121.3 949.0,121.5 952.8,121.8 C956.7,122.2 969.1,123.8 974.4,124.0 C979.7,124.2 982.4,124.1 984.7,123.1 C987.0,122.2 987.9,120.1 988.3,118.2 C988.7,116.2 989.1,114.1 987.0,111.5 C984.9,108.8 982.0,105.7 975.8,102.2 C969.7,98.7 956.7,93.2 950.3,90.5 C943.9,87.9 939.7,87.0 937.4,86.2 C935.0,85.4 938.6,87.1 936.3,85.7 C934.0,84.4 927.2,80.2 923.3,78.0 C919.4,75.9 916.2,74.2 912.8,72.8 C909.3,71.5 909.9,71.0 902.6,69.8 C895.4,68.6 874.9,66.2 869.3,65.5 C863.6,64.7 872.5,66.2 868.8,65.4 C865.1,64.5 854.6,61.9 847.0,60.4 C839.4,58.9 827.2,57.3 823.1,56.6 C819.1,56.0 825.2,57.1 822.7,56.5 C820.2,55.9 814.2,53.7 808.2,53.0 C802.3,52.3 792.7,52.1 786.7,52.3 C780.7,52.5 776.3,53.1 772.3,54.0 C768.3,54.8 764.8,56.8 762.9,57.5 C761.0,58.1 761.5,57.8 760.8,57.8 C760.1,57.8 759.3,57.6 758.7,57.3 C758.0,57.0 757.4,56.5 756.9,56.0 C756.5,55.5 756.5,55.9 755.8,54.1 C755.1,52.4 755.2,47.5 752.8,45.7 C750.4,43.8 743.2,42.5 741.2,42.9Z" fill="#f02800" filter="url(#blur2)"/>
<ellipse cx="900" cy="110" rx="20" ry="8" fill="#f06000" opacity="0.45" filter="url(#blur6)"/>
<ellipse cx="975" cy="115" rx="18" ry="12" fill="#f27000" opacity="0.65" filter="url(#blur6)"/>
<ellipse cx="955" cy="100" rx="12" ry="8" fill="#f06000" opacity="0.4" filter="url(#blur6)"/>
<rect x="733" y="0" width="57" height="200" fill="url(#glowb)" clip-path="url(#cclipb)" filter="url(#blur1)"/>
</g>
<text x="693.0" y="58.5" font-family="'Liberation Sans', sans-serif" font-size="6.6" font-weight="normal" fill="#2a2a2a" textLength="12.3" lengthAdjust="spacingAndGlyphs" >HU2</text>
<line x1="693.3" y1="53.0" x2="693.3" y2="61.0" stroke="#b03030" stroke-width="0.6" />
<text x="823.5" y="93.5" font-family="'Liberation Sans', sans-serif" font-size="6.6" font-weight="normal" fill="#2a2a2a" textLength="24.6" lengthAdjust="spacingAndGlyphs" >HU2003</text>
<line x1="823.8" y1="88.0" x2="823.8" y2="96.0" stroke="#b03030" stroke-width="0.6" />
<text x="882.0" y="79.5" font-family="'Liberation Sans', sans-serif" font-size="6.6" font-weight="normal" fill="#2a2a2a" textLength="24.6" lengthAdjust="spacingAndGlyphs" >HU2005</text>
<line x1="882.3" y1="74.0" x2="882.3" y2="82.0" stroke="#b03030" stroke-width="0.6" />
<text x="924.5" y="91.5" font-family="'Liberation Sans', sans-serif" font-size="6.6" font-weight="normal" fill="#2a2a2a" textLength="24.6" lengthAdjust="spacingAndGlyphs" >HU2006</text>
<line x1="924.8" y1="86.0" x2="924.8" y2="94.0" stroke="#b03030" stroke-width="0.6" />
<text x="887.5" y="119.0" font-family="'Liberation Sans', sans-serif" font-size="6.6" font-weight="normal" fill="#2a2a2a" textLength="24.6" lengthAdjust="spacingAndGlyphs" >HU2004</text>
<line x1="887.8" y1="113.5" x2="887.8" y2="121.5" stroke="#b03030" stroke-width="0.6" />
<text x="962.0" y="116.0" font-family="'Liberation Sans', sans-serif" font-size="6.6" font-weight="normal" fill="#2a2a2a" textLength="20.5" lengthAdjust="spacingAndGlyphs" >HU001</text>
<line x1="962.3" y1="110.5" x2="962.3" y2="118.5" stroke="#b03030" stroke-width="0.6" />
<text x="739.2" y="88.0" font-family="'Liberation Serif', serif" font-size="15.97" font-weight="bold" fill="#111" textLength="62.9" lengthAdjust="spacingAndGlyphs" >HU2006</text>
<line x1="759.8" y1="58.9" x2="759.8" y2="72.6" stroke="#111" stroke-width="1.7" />
<line x1="692.5" y1="89" x2="692.5" y2="188" stroke="#c8c8c8" stroke-width="0.9" />
<rect x="30.3" y="103.3" width="43.2" height="69.2" fill="#fff" stroke="#555" stroke-width="1"/>
<line x1="30.3" y1="122" x2="73.5" y2="122" stroke="#555" stroke-width="1" />
<line x1="58.3" y1="103.3" x2="58.3" y2="122" stroke="#555" stroke-width="1" />
<rect x="58.5" y="122.6" width="7.5" height="49.400000000000006" fill="url(#cbar)"/>
<text x="30.8" y="115.2" font-family="'Liberation Sans', sans-serif" font-size="7.4" font-weight="normal" fill="#333" textLength="26.5" lengthAdjust="spacingAndGlyphs" >Saturat...</text>
<path d="M63.0,109.9 L68.2,115.1 M63.0,115.1 L68.2,109.9" stroke="#111" stroke-width="1.10"/>
<text x="32.5" y="129.7" font-family="'Liberation Sans', sans-serif" font-size="7.4" font-weight="normal" fill="#3a3a3a" textLength="22.5" lengthAdjust="spacingAndGlyphs" >0.70000</text>
<text x="32.5" y="137.2" font-family="'Liberation Sans', sans-serif" font-size="7.4" font-weight="normal" fill="#3a3a3a" textLength="22.5" lengthAdjust="spacingAndGlyphs" >0.52500</text>
<text x="32.5" y="150.0" font-family="'Liberation Sans', sans-serif" font-size="7.4" font-weight="normal" fill="#3a3a3a" textLength="22.5" lengthAdjust="spacingAndGlyphs" >0.35000</text>
<text x="32.5" y="162.3" font-family="'Liberation Sans', sans-serif" font-size="7.4" font-weight="normal" fill="#3a3a3a" textLength="22.5" lengthAdjust="spacingAndGlyphs" >0.17500</text>
<text x="32.5" y="171.6" font-family="'Liberation Sans', sans-serif" font-size="7.4" font-weight="normal" fill="#3a3a3a" textLength="22.5" lengthAdjust="spacingAndGlyphs" >0.00000</text>
<rect x="605" y="96" width="41" height="65" fill="#fff" stroke="#555" stroke-width="1"/>
<line x1="605" y1="113.7" x2="646" y2="113.7" stroke="#555" stroke-width="1" />
<line x1="631.4" y1="96" x2="631.4" y2="113.7" stroke="#555" stroke-width="1" />
<rect x="631.6" y="114.2" width="7.399999999999977" height="46.39999999999999" fill="url(#cbar)"/>
<text x="605.3" y="108.0" font-family="'Liberation Sans', sans-serif" font-size="7.0" font-weight="normal" fill="#333" textLength="25.5" lengthAdjust="spacingAndGlyphs" >Saturat...</text>
<path d="M635.8,102.5 L640.8,107.5 M635.8,107.5 L640.8,102.5" stroke="#111" stroke-width="1.10"/>
<text x="606.7" y="120.6" font-family="'Liberation Sans', sans-serif" font-size="7.0" font-weight="normal" fill="#3a3a3a" textLength="22.3" lengthAdjust="spacingAndGlyphs" >0.70000</text>
<text x="606.7" y="128.5" font-family="'Liberation Sans', sans-serif" font-size="7.0" font-weight="normal" fill="#3a3a3a" textLength="22.3" lengthAdjust="spacingAndGlyphs" >0.52500</text>
<text x="606.7" y="140.4" font-family="'Liberation Sans', sans-serif" font-size="7.0" font-weight="normal" fill="#3a3a3a" textLength="22.3" lengthAdjust="spacingAndGlyphs" >0.35000</text>
<text x="606.7" y="151.3" font-family="'Liberation Sans', sans-serif" font-size="7.0" font-weight="normal" fill="#3a3a3a" textLength="22.3" lengthAdjust="spacingAndGlyphs" >0.17500</text>
<text x="606.7" y="159.4" font-family="'Liberation Sans', sans-serif" font-size="7.0" font-weight="normal" fill="#3a3a3a" textLength="22.3" lengthAdjust="spacingAndGlyphs" >0.00000</text>
<g clip-path="url(#clipc)">
<rect x="28.3" y="231.5" width="471.7" height="261.8" fill="#0404f4"/>
<rect x="28.3" y="231.5" width="471.7" height="261.8" fill="#0404f4"/>
<path d="M10.0,355.0 L520.0,485.0 L520.0,500.0 L10.0,500.0Z" fill="url(#gridB2)"/>
<path d="M18.3,221.5 L510.0,221.5 L510.0,485.0 L520.0,485.0 L10.0,355.0Z" fill="url(#gridB)"/>
<path d="M20.0,225.0 L216.0,225.0 L216.0,231.5 L227.5,239.3 L256.0,247.8 L294.0,260.2 L332.0,268.7 L350.0,270.2 L370.0,272.5 L389.3,274.6 L415.5,276.5 L437.3,289.1 L451.9,297.9 L466.4,315.3 L473.0,340.0 L478.0,357.0 L480.0,374.0 L481.6,388.0 L491.8,405.0 L499.5,413.5 L505.0,413.5 L505.0,446.0 L499.5,446.0 L493.5,453.0 L485.0,458.0 L474.7,461.4 L462.8,461.4 L454.2,465.0 L444.0,461.4 L440.5,466.6 L447.4,476.8 L455.9,487.1 L450.0,488.4 L431.0,485.6 L412.0,480.8 L393.0,475.0 L374.0,470.4 L355.0,467.5 L336.0,464.7 L317.0,464.7 L298.0,470.4 L279.0,475.0 L267.0,475.7 L234.5,457.7 L198.4,446.8 L162.2,434.2 L126.1,416.1 L100.8,405.3 L28.0,382.0 L20.0,379.0Z" fill="url(#bandP)" />
<path d="M24.0,229.0 L24.0,376.2 L29.3,378.2 L102.0,401.5 L102.4,401.6 L127.7,412.4 L127.9,412.5 L163.8,430.5 L199.6,443.0 L235.7,453.9 L236.4,454.2 L267.9,471.6 L278.4,471.0 L297.0,466.5 L315.9,460.9 L317.0,460.7 L336.0,460.7 L336.6,460.7 L355.6,463.5 L355.6,463.5 L374.6,466.4 L374.9,466.5 L393.9,471.1 L394.2,471.2 L413.1,476.9 L431.8,481.7 L448.2,484.1 L444.3,479.3 L444.1,479.0 L437.2,468.8 L436.6,467.4 L436.6,465.8 L437.2,464.4 L440.7,459.2 L441.9,458.0 L443.6,457.4 L445.3,457.6 L454.1,460.7 L461.3,457.7 L462.8,457.4 L474.1,457.4 L483.3,454.3 L490.9,449.9 L496.5,443.4 L497.8,442.4 L499.5,442.0 L501.0,442.0 L501.0,417.5 L499.5,417.5 L497.9,417.2 L496.5,416.2 L488.8,407.7 L488.4,407.1 L478.2,390.1 L477.6,388.5 L476.0,374.5 L474.1,357.8 L469.2,341.1 L469.1,341.0 L462.8,317.2 L449.3,301.0 L435.3,292.5 L414.3,280.4 L389.0,278.6 L388.9,278.6 L369.6,276.5 L369.5,276.5 L349.6,274.2 L331.7,272.7 L331.1,272.6 L293.1,264.1 L292.8,264.0 L254.8,251.6 L226.4,243.1 L225.3,242.6 L213.8,234.8 L212.5,233.4 L212.0,231.5 L212.0,229.0Z" fill="url(#bandQ)" />
<path d="M20.0,225.0 L216.0,225.0 L216.0,235.0 L226.0,243.5 L256.0,252.5 L294.0,265.0 L332.0,273.5 L350.0,276.0 L370.0,278.5 L393.7,281.8 L422.8,287.7 L440.2,296.4 L454.8,309.5 L466.4,327.0 L469.6,340.0 L473.0,357.0 L474.7,374.0 L478.1,391.3 L485.0,405.0 L491.8,417.0 L495.3,425.5 L488.4,435.8 L476.4,446.0 L466.2,452.9 L454.2,456.0 L444.0,452.0 L438.0,455.0 L446.3,478.9 L431.0,475.1 L412.0,471.3 L393.0,464.7 L374.0,460.0 L355.0,458.0 L336.0,456.1 L317.0,455.2 L298.0,457.1 L279.0,458.0 L270.6,459.5 L234.5,448.6 L198.4,434.2 L162.2,421.5 L126.1,403.5 L100.8,394.4 L28.0,369.8 L20.0,367.0Z" fill="url(#surfC)" />
<g clip-path="url(#sclipc)">
<path d="M20.0,225.0 L216.0,225.0 L216.0,235.0 L226.0,243.5 L256.0,252.5 L294.0,265.0 L332.0,273.5 L350.0,276.0 L370.0,278.5 L393.7,281.8 L422.8,287.7 L440.2,296.4 L454.8,309.5 L466.4,327.0 L469.6,340.0 L473.0,357.0 L474.7,374.0 L478.1,391.3 L485.0,405.0 L491.8,417.0 L495.3,425.5 L488.4,435.8 L476.4,446.0 L466.2,452.9 L454.2,456.0 L444.0,452.0 L438.0,455.0 L446.3,478.9 L431.0,475.1 L412.0,471.3 L393.0,464.7 L374.0,460.0 L355.0,458.0 L336.0,456.1 L317.0,455.2 L298.0,457.1 L279.0,458.0 L270.6,459.5 L234.5,448.6 L198.4,434.2 L162.2,421.5 L126.1,403.5 L100.8,394.4 L28.0,369.8 L20.0,367.0Z" fill="none" stroke="#f8b428" stroke-width="16" opacity="0.5" filter="url(#blur3)"/>
<path d="M28,300 L68,262 L229.9,344 L319.6,380 L431.8,456 L449.7,492 L28,492Z" fill="#f8b030" opacity="0.42" filter="url(#blur10)"/>
<path d="M28,360 L100,388 L200,428 L270,452 L380,452 L446,472 L446,495 L28,495Z" fill="#fac030" opacity="0.45" filter="url(#blur6)"/>
<ellipse cx="260" cy="292" rx="120" ry="22" transform="rotate(22 260 292)" fill="#8a3018" opacity="0.28" filter="url(#blur10)"/>
<ellipse cx="395" cy="318" rx="55" ry="26" fill="#8a3a20" opacity="0.28" filter="url(#blur10)"/>
<ellipse cx="110" cy="250" rx="90" ry="18" fill="#e84010" opacity="0.3" filter="url(#blur10)"/>
<path d="M68,249 L229.9,334.2 L319.6,370 L431.8,446.3 L449.7,486.7" stroke="#4a3040" stroke-width="1.2" fill="none" opacity="0.45"/>
<path d="M205,232 Q260,262 330,285 T470,318" stroke="#4a3040" stroke-width="1" fill="none" opacity="0.35"/>
</g>
<path d="M20.0,225.0 L216.0,225.0 L216.0,231.5 L227.5,239.3 L256.0,247.8 L294.0,260.2 L332.0,268.7 L350.0,270.2 L370.0,272.5 L389.3,274.6 L415.5,276.5 L437.3,289.1 L451.9,297.9 L466.4,315.3 L473.0,340.0 L478.0,357.0 L480.0,374.0 L481.6,388.0 L491.8,405.0 L499.5,413.5 L505.0,413.5 L505.0,446.0 L499.5,446.0 L493.5,453.0 L485.0,458.0 L474.7,461.4 L462.8,461.4 L454.2,465.0 L444.0,461.4 L440.5,466.6 L447.4,476.8 L455.9,487.1 L450.0,488.4 L431.0,485.6 L412.0,480.8 L393.0,475.0 L374.0,470.4 L355.0,467.5 L336.0,464.7 L317.0,464.7 L298.0,470.4 L279.0,475.0 L267.0,475.7 L234.5,457.7 L198.4,446.8 L162.2,434.2 L126.1,416.1 L100.8,405.3 L28.0,382.0 L20.0,379.0Z" fill="url(#gridO)" />
</g>
<text x="364.2" y="332.4" font-family="'Liberation Serif', serif" font-size="18.21" font-weight="bold" fill="#111" textLength="71.5" lengthAdjust="spacingAndGlyphs" >HU2006</text>
<line x1="440.5" y1="240.4" x2="440.5" y2="351.7" stroke="#111" stroke-width="2" />
<text x="441.0" y="238.5" font-family="'Liberation Sans', sans-serif" font-size="6.8" font-weight="normal" fill="#333" textLength="31.0" lengthAdjust="spacingAndGlyphs" >HU2006</text>
<line x1="201" y1="231.7" x2="201" y2="245" stroke="#8890a0" stroke-width="1.6" />
<g clip-path="url(#clipd)">
<rect x="601.4" y="232.4" width="447.19999999999993" height="261.79999999999995" fill="#0404f4"/>
<rect x="601.4" y="232.4" width="447.19999999999993" height="261.79999999999995" fill="#0404f4"/>
<path d="M590.0,330.0 L1060.0,472.0 L1060.0,500.0 L590.0,500.0Z" fill="url(#gridB2)"/>
<path d="M591.4,222.4 L1058.6,222.4 L1058.6,472.0 L1060.0,472.0 L590.0,330.0Z" fill="url(#gridB)"/>
<path d="M590.0,225.0 L861.8,225.0 L861.8,232.4 L890.0,237.0 L917.4,243.0 L948.0,251.0 L985.0,263.0 L1002.7,270.0 L1016.0,289.8 L1022.6,306.4 L1027.5,322.9 L1029.2,341.1 L1030.8,360.9 L1035.8,382.4 L1042.4,399.0 L1048.7,412.2 L1055.0,412.2 L1055.0,463.8 L1048.5,463.8 L1034.6,452.2 L1025.6,457.4 L1015.0,457.4 L1005.0,460.0 L997.2,454.8 L989.5,457.4 L985.6,452.2 L1003.6,485.7 L997.2,478.0 L976.6,472.8 L963.7,465.0 L938.7,463.7 L917.8,465.8 L897.0,468.0 L876.0,470.0 L855.0,476.2 L840.4,478.3 L823.7,470.0 L802.8,457.4 L781.8,444.8 L761.0,434.4 L740.0,428.0 L682.6,402.0 L601.4,360.5 L590.0,356.0Z" fill="url(#bandP)" />
<path d="M594.0,229.0 L594.0,353.3 L602.9,356.8 L603.2,356.9 L684.3,398.4 L741.4,424.2 L762.2,430.6 L762.8,430.8 L783.6,441.2 L783.9,441.4 L804.9,454.0 L804.9,454.0 L825.6,466.5 L841.1,474.2 L854.1,472.3 L874.9,466.2 L875.6,466.0 L896.6,464.0 L917.4,461.8 L917.4,461.8 L938.3,459.7 L938.9,459.7 L963.9,461.0 L965.8,461.6 L978.2,469.1 L992.0,472.6 L982.1,454.1 L981.6,452.7 L981.7,451.2 L982.4,449.8 L983.4,448.8 L984.8,448.3 L986.3,448.3 L987.7,448.8 L988.8,449.8 L991.0,452.7 L995.9,451.0 L997.7,450.8 L999.4,451.5 L1005.7,455.7 L1014.0,453.5 L1015.0,453.4 L1024.5,453.4 L1032.6,448.7 L1034.1,448.2 L1035.7,448.4 L1037.2,449.1 L1049.9,459.8 L1051.0,459.8 L1051.0,416.2 L1048.7,416.2 L1047.2,415.9 L1046.0,415.1 L1045.1,413.9 L1038.8,400.7 L1038.7,400.5 L1032.1,383.9 L1031.9,383.3 L1026.9,361.8 L1026.8,361.2 L1025.2,341.4 L1023.6,323.7 L1018.8,307.7 L1012.4,291.7 L1000.1,273.3 L983.6,266.8 L946.9,254.8 L916.5,246.9 L889.2,240.9 L861.2,236.3 L859.8,235.9 L858.8,235.0 L858.0,233.8 L857.8,232.4 L857.8,229.0Z" fill="url(#bandQ)" />
<path d="M590.0,225.0 L861.8,225.0 L861.8,236.0 L890.0,241.5 L917.0,248.0 L946.0,256.0 L981.0,268.5 L996.0,271.0 L1007.7,289.8 L1016.0,309.7 L1021.0,326.2 L1024.2,346.0 L1025.9,365.9 L1030.8,385.7 L1037.5,402.3 L1044.0,415.5 L1046.0,418.0 L1046.0,450.0 L1040.0,452.0 L1030.0,443.0 L1022.0,446.0 L1012.0,446.0 L1003.0,449.0 L994.0,444.0 L986.0,446.0 L976.0,442.0 L992.0,472.0 L988.0,466.0 L974.0,461.0 L960.0,454.0 L949.2,449.0 L928.3,449.0 L907.4,453.2 L886.4,455.3 L865.5,459.5 L844.6,461.6 L823.7,455.3 L802.8,444.8 L781.8,432.3 L761.0,419.7 L740.0,407.2 L682.6,377.5 L601.4,326.5 L590.0,322.0Z" fill="url(#surfD)" />
<g clip-path="url(#sclipd)">
<path d="M590.0,225.0 L861.8,225.0 L861.8,236.0 L890.0,241.5 L917.0,248.0 L946.0,256.0 L981.0,268.5 L996.0,271.0 L1007.7,289.8 L1016.0,309.7 L1021.0,326.2 L1024.2,346.0 L1025.9,365.9 L1030.8,385.7 L1037.5,402.3 L1044.0,415.5 L1046.0,418.0 L1046.0,450.0 L1040.0,452.0 L1030.0,443.0 L1022.0,446.0 L1012.0,446.0 L1003.0,449.0 L994.0,444.0 L986.0,446.0 L976.0,442.0 L992.0,472.0 L988.0,466.0 L974.0,461.0 L960.0,454.0 L949.2,449.0 L928.3,449.0 L907.4,453.2 L886.4,455.3 L865.5,459.5 L844.6,461.6 L823.7,455.3 L802.8,444.8 L781.8,432.3 L761.0,419.7 L740.0,407.2 L682.6,377.5 L601.4,326.5 L590.0,322.0Z" fill="none" stroke="#f8b428" stroke-width="16" opacity="0.5" filter="url(#blur3)"/>
<path d="M601,300 L728.8,268 L839.5,344 L899.1,382 L984.3,463 L1001,492 L601,492Z" fill="#f8b030" opacity="0.42" filter="url(#blur10)"/>
<path d="M601,318 L682,370 L760,400 L840,455 L950,442 L990,462 L990,495 L601,495Z" fill="#fac030" opacity="0.45" filter="url(#blur6)"/>
<ellipse cx="880" cy="285" rx="90" ry="24" transform="rotate(15 880 285)" fill="#8a3018" opacity="0.3" filter="url(#blur10)"/>
<ellipse cx="960" cy="315" rx="45" ry="24" fill="#8a3a20" opacity="0.22" filter="url(#blur10)"/>
<ellipse cx="700" cy="245" rx="90" ry="18" fill="#e84010" opacity="0.3" filter="url(#blur10)"/>
<path d="M707,232 L728.8,257.6 L839.5,334.2 L899.1,372.5 L984.3,453.5 L1001,483" stroke="#4a3040" stroke-width="1.2" fill="none" opacity="0.45"/>
</g>
<path d="M590.0,225.0 L861.8,225.0 L861.8,232.4 L890.0,237.0 L917.4,243.0 L948.0,251.0 L985.0,263.0 L1002.7,270.0 L1016.0,289.8 L1022.6,306.4 L1027.5,322.9 L1029.2,341.1 L1030.8,360.9 L1035.8,382.4 L1042.4,399.0 L1048.7,412.2 L1055.0,412.2 L1055.0,463.8 L1048.5,463.8 L1034.6,452.2 L1025.6,457.4 L1015.0,457.4 L1005.0,460.0 L997.2,454.8 L989.5,457.4 L985.6,452.2 L1003.6,485.7 L997.2,478.0 L976.6,472.8 L963.7,465.0 L938.7,463.7 L917.8,465.8 L897.0,468.0 L876.0,470.0 L855.0,476.2 L840.4,478.3 L823.7,470.0 L802.8,457.4 L781.8,444.8 L761.0,434.4 L740.0,428.0 L682.6,402.0 L601.4,360.5 L590.0,356.0Z" fill="url(#gridO)" />
</g>
<text x="923.0" y="320.2" font-family="'Liberation Serif', serif" font-size="18.81" font-weight="bold" fill="#111" textLength="72.4" lengthAdjust="spacingAndGlyphs" >HU2006</text>
<line x1="1000.8" y1="232.4" x2="1000.8" y2="336.1" stroke="#111" stroke-width="2" />
<rect x="39.5" y="390.8" width="61.5" height="79.80000000000001" fill="#fff" stroke="#555" stroke-width="1"/>
<line x1="39.5" y1="412" x2="101" y2="412" stroke="#555" stroke-width="1" />
<line x1="79.4" y1="390.8" x2="79.4" y2="412" stroke="#555" stroke-width="1" />
<rect x="79.6" y="413" width="10.5" height="57.19999999999999" fill="url(#cbar)"/>
<text x="39.8" y="404.4" font-family="'Liberation Sans', sans-serif" font-size="9.5" font-weight="normal" fill="#333" textLength="37.4" lengthAdjust="spacingAndGlyphs" >Saturat...</text>
<path d="M86.7,398.0 L93.5,404.8 M86.7,404.8 L93.5,398.0" stroke="#111" stroke-width="1.36"/>
<text x="42.8" y="421.4" font-family="'Liberation Sans', sans-serif" font-size="9.5" font-weight="normal" fill="#3a3a3a" textLength="32.2" lengthAdjust="spacingAndGlyphs" >0.70000</text>
<text x="42.8" y="430.6" font-family="'Liberation Sans', sans-serif" font-size="9.5" font-weight="normal" fill="#3a3a3a" textLength="32.2" lengthAdjust="spacingAndGlyphs" >0.52500</text>
<text x="42.8" y="444.8" font-family="'Liberation Sans', sans-serif" font-size="9.5" font-weight="normal" fill="#3a3a3a" textLength="32.2" lengthAdjust="spacingAndGlyphs" >0.35000</text>
<text x="42.8" y="459.2" font-family="'Liberation Sans', sans-serif" font-size="9.5" font-weight="normal" fill="#3a3a3a" textLength="32.2" lengthAdjust="spacingAndGlyphs" >0.17500</text>
<text x="42.8" y="469.6" font-family="'Liberation Sans', sans-serif" font-size="9.5" font-weight="normal" fill="#3a3a3a" textLength="32.2" lengthAdjust="spacingAndGlyphs" >0.00000</text>
<rect x="619.3" y="383.7" width="59.30000000000007" height="97.90000000000003" fill="#fff" stroke="#555" stroke-width="1"/>
<line x1="619.3" y1="411.5" x2="678.6" y2="411.5" stroke="#555" stroke-width="1" />
<line x1="657.3" y1="383.7" x2="657.3" y2="411.5" stroke="#555" stroke-width="1" />
<rect x="657.5" y="412" width="10.5" height="69" fill="url(#cbar)"/>
<text x="619.6" y="401.6" font-family="'Liberation Sans', sans-serif" font-size="10.5" font-weight="normal" fill="#333" textLength="35.9" lengthAdjust="spacingAndGlyphs" >Saturat...</text>
<path d="M663.8,393.3 L670.6,400.1 M663.8,400.1 L670.6,393.3" stroke="#111" stroke-width="1.36"/>
<text x="622.2" y="420.3" font-family="'Liberation Sans', sans-serif" font-size="10.5" font-weight="normal" fill="#3a3a3a" textLength="31.2" lengthAdjust="spacingAndGlyphs" >0.70000</text>
<text x="622.2" y="432.7" font-family="'Liberation Sans', sans-serif" font-size="10.5" font-weight="normal" fill="#3a3a3a" textLength="31.2" lengthAdjust="spacingAndGlyphs" >0.52500</text>
<text x="622.2" y="450.2" font-family="'Liberation Sans', sans-serif" font-size="10.5" font-weight="normal" fill="#3a3a3a" textLength="31.2" lengthAdjust="spacingAndGlyphs" >0.35000</text>
<text x="622.2" y="468.2" font-family="'Liberation Sans', sans-serif" font-size="10.5" font-weight="normal" fill="#3a3a3a" textLength="31.2" lengthAdjust="spacingAndGlyphs" >0.17500</text>
<text x="622.2" y="479.2" font-family="'Liberation Sans', sans-serif" font-size="10.5" font-weight="normal" fill="#3a3a3a" textLength="31.2" lengthAdjust="spacingAndGlyphs" >0.00000</text>
<path d="M40.3,642.5 L50.0,637.0 L61.8,631.3 L80.0,622.0 L98.9,614.0 L120.0,607.0 L148.3,600.4 L169.5,596.7 L195.0,595.0 L222.4,593.8 L252.0,588.6 L264.7,587.3 L280.0,586.5 L283.0,580.7 L287.0,585.6 L314.0,595.5 L340.0,608.0 L363.6,621.4 L390.0,631.0 L413.0,641.2 L440.0,656.0 L455.0,666.0 L471.8,677.6 L471.8,904.6 L432.0,889.4 L394.0,875.0 L361.7,861.8 L366.5,879.8 L346.5,870.3 L318.0,859.0 L295.2,851.3 L269.5,847.0 L243.9,844.0 L209.6,849.0 L190.0,856.0 L171.0,864.0 L153.0,867.0 L141.0,869.0 L40.3,894.0Z" fill="#ffa800" />
<path d="M40.3,642.5 L50.0,637.0 L61.8,631.3 L80.0,622.0 L98.9,614.0 L120.0,607.0 L148.3,600.4 L169.5,596.7 L195.0,595.0 L222.4,593.8 L252.0,588.6 L264.7,587.3 L280.0,586.5 L283.0,580.7 L287.0,585.6 L314.0,595.5 L340.0,608.0 L363.6,621.4 L390.0,631.0 L413.0,641.2 L440.0,656.0 L455.0,666.0 L471.8,677.6 L471.8,828.0 L395.0,828.0 L343.0,826.0 L290.0,823.0 L250.0,823.0 L140.0,823.0 L40.3,826.0Z" fill="#ff8c00" />
<path d="M40.3,642.5 L50.0,637.0 L61.8,631.3 L80.0,622.0 L98.9,614.0 L120.0,607.0 L148.3,600.4 L169.5,596.7 L195.0,595.0 L222.4,593.8 L252.0,588.6 L264.7,587.3 L280.0,586.5 L283.0,580.7 L287.0,585.6 L314.0,595.5 L340.0,608.0 L363.6,621.4 L390.0,631.0 L413.0,641.2 L440.0,656.0 L455.0,666.0 L471.8,677.6 L471.8,820.0 L395.0,818.0 L343.0,814.0 L290.0,809.0 L250.0,811.0 L140.0,814.0 L40.3,818.0Z" fill="#ff6e00" />
<path d="M40.3,642.5 L50.0,637.0 L61.8,631.3 L80.0,622.0 L98.9,614.0 L120.0,607.0 L148.3,600.4 L169.5,596.7 L195.0,595.0 L222.4,593.8 L252.0,588.6 L264.7,587.3 L280.0,586.5 L283.0,580.7 L287.0,585.6 L314.0,595.5 L340.0,608.0 L363.6,621.4 L390.0,631.0 L413.0,641.2 L440.0,656.0 L455.0,666.0 L471.8,677.6 L471.8,814.0 L395.0,808.0 L343.0,802.0 L290.0,797.0 L250.0,800.0 L140.0,804.0 L40.3,808.0Z" fill="#ff5600" />
<path d="M40.3,642.5 L50.0,637.0 L61.8,631.3 L80.0,622.0 L98.9,614.0 L120.0,607.0 L148.3,600.4 L169.5,596.7 L195.0,595.0 L222.4,593.8 L252.0,588.6 L264.7,587.3 L280.0,586.5 L283.0,580.7 L287.0,585.6 L314.0,595.5 L340.0,608.0 L363.6,621.4 L390.0,631.0 L413.0,641.2 L440.0,656.0 L455.0,666.0 L471.8,677.6 L471.8,804.0 L395.0,797.0 L343.0,790.0 L290.0,784.0 L250.0,788.0 L140.0,791.0 L40.3,795.0Z" fill="#ff4000" />
<path d="M40.3,642.5 L50.0,637.0 L61.8,631.3 L80.0,622.0 L98.9,614.0 L120.0,607.0 L148.3,600.4 L169.5,596.7 L195.0,595.0 L222.4,593.8 L252.0,588.6 L264.7,587.3 L280.0,586.5 L283.0,580.7 L287.0,585.6 L314.0,595.5 L340.0,608.0 L363.6,621.4 L390.0,631.0 L413.0,641.2 L440.0,656.0 L455.0,666.0 L471.8,677.6 L471.8,793.0 L395.0,786.0 L343.0,777.0 L290.0,772.0 L250.0,775.0 L140.0,778.0 L40.3,782.0Z" fill="#ff2e00" />
<path d="M40.3,642.5 L50.0,637.0 L61.8,631.3 L80.0,622.0 L98.9,614.0 L120.0,607.0 L148.3,600.4 L169.5,596.7 L195.0,595.0 L222.4,593.8 L252.0,588.6 L264.7,587.3 L280.0,586.5 L283.0,580.7 L287.0,585.6 L314.0,595.5 L340.0,608.0 L363.6,621.4 L390.0,631.0 L413.0,641.2 L440.0,656.0 L455.0,666.0 L471.8,677.6 L471.8,783.0 L395.0,774.0 L343.0,766.0 L290.0,762.0 L250.0,762.0 L140.0,764.0 L40.3,768.0Z" fill="#ff1e00" />
<path d="M40.3,642.5 L50.0,637.0 L61.8,631.3 L80.0,622.0 L98.9,614.0 L120.0,607.0 L148.3,600.4 L169.5,596.7 L195.0,595.0 L222.4,593.8 L252.0,588.6 L264.7,587.3 L280.0,586.5 L283.0,580.7 L287.0,585.6 L314.0,595.5 L340.0,608.0 L363.6,621.4 L390.0,631.0 L413.0,641.2 L440.0,656.0 L455.0,666.0 L471.8,677.6 L471.8,752.0 L440.0,734.0 L413.0,720.0 L388.3,708.0 L365.0,700.0 L319.0,678.3 L311.7,674.6 L309.0,680.8 L277.0,679.5 L240.0,674.6 L215.0,667.0 L197.7,667.0 L185.0,669.5 L169.5,674.6 L135.0,680.0 L98.9,688.2 L70.0,699.0 L40.3,711.7Z" fill="#ff5404" />
<path d="M40.3,642.5 L50.0,637.0 L61.8,631.3 L80.0,622.0 L98.9,614.0 L120.0,607.0 L148.3,600.4 L169.5,596.7 L195.0,595.0 L222.4,593.8 L252.0,588.6 L264.7,587.3 L280.0,586.5 L283.0,580.7 L287.0,585.6 L314.0,595.5 L340.0,608.0 L363.6,621.4 L390.0,631.0 L413.0,641.2 L440.0,656.0 L455.0,666.0 L471.8,677.6 L471.8,752.0 L440.0,734.0 L413.0,720.0 L388.3,708.0 L365.0,700.0 L319.0,678.3 L311.7,674.6 L309.0,680.8 L277.0,679.5 L240.0,674.6 L215.0,667.0 L197.7,667.0 L185.0,669.5 L169.5,674.6 L135.0,680.0 L98.9,688.2 L70.0,699.0 L40.3,711.7Z" fill="#ff5404" />
<path d="M40.3,853.0 L128.5,833.5 L141.0,869.0 L40.3,894.0Z" fill="#0000ec" />
<path d="M292.0,835.0 L318.0,840.0 L340.8,829.5 L354.0,834.2 L356.0,841.8 L373.0,844.0 L394.0,830.4 L445.4,840.9 L471.8,838.5 L471.8,904.6 L432.0,889.4 L394.0,875.0 L361.7,861.8 L366.5,879.8 L346.5,870.3 L318.0,859.0 L295.2,851.3Z" fill="#0000ec" />
<path d="M128.5,833.5 L143.0,831.0 L153.0,867.0 L141.0,869.0Z" fill="#58e838" />
<path d="M135.0,850.0 L148.0,848.0 L153.0,867.0 L141.0,869.0Z" fill="#28f0a0" />
<path d="M40.3,826.0 L51.5,826.0 L51.5,851.0 L40.3,853.0Z" fill="#50e838" />
<path d="M40.3,838.0 L45.0,838.0 L45.0,852.5 L40.3,853.0Z" fill="#28f0b0" />
<path d="M267.0,826.0 L279.0,828.0 L288.0,849.5 L278.0,848.0Z" fill="#f4f000" />
<path d="M276.0,828.0 L292.0,834.0 L296.0,851.3 L285.0,849.5Z" fill="#40e868" />
<path d="M325.6,824.7 L340.8,828.5 L346.5,856.0 L331.3,849.4Z" fill="#78e830" />
<path d="M373.0,823.8 L379.0,825.0 L383.0,852.0 L377.9,851.3Z" fill="#f0f000" />
<path d="M379.0,825.0 L394.0,830.4 L396.0,857.0 L383.0,852.0Z" fill="#30e890" />
<path d="M432.0,814.0 L471.8,811.0 L471.8,838.5 L460.0,841.0 L445.4,840.9 L432.0,834.0Z" fill="#c4e820" />
<path d="M436.0,815.0 L448.0,814.0 L452.0,830.0 L440.0,830.0Z" fill="#f4f000" />
<path d="M446.0,826.0 L462.0,825.0 L466.0,840.0 L450.0,841.0Z" fill="#60e860" />
<path d="M462.0,814.0 L471.8,812.0 L471.8,826.0 L464.0,826.0Z" fill="#f4f000" />
<line x1="31.4" y1="551.8" x2="479.2" y2="551.8" stroke="#5a5a5a" stroke-width="1.5" />
<line x1="31.4" y1="551.8" x2="31.4" y2="905" stroke="#5a5a5a" stroke-width="1.5" />
<line x1="39.5" y1="551.8" x2="39.5" y2="555.3" stroke="#4a4a4a" stroke-width="1.3" />
<text x="36.3" y="550.0" font-family="'Liberation Sans', sans-serif" font-size="11.6" font-weight="normal" fill="#333" textLength="6.5" lengthAdjust="spacingAndGlyphs" stroke="#333" stroke-width="0.35">0</text>
<line x1="119.4" y1="551.8" x2="119.4" y2="555.3" stroke="#4a4a4a" stroke-width="1.3" />
<text x="109.7" y="550.0" font-family="'Liberation Sans', sans-serif" font-size="11.6" font-weight="normal" fill="#333" textLength="19.4" lengthAdjust="spacingAndGlyphs" stroke="#333" stroke-width="0.35">200</text>
<line x1="199" y1="551.8" x2="199" y2="555.3" stroke="#4a4a4a" stroke-width="1.3" />
<text x="189.3" y="550.0" font-family="'Liberation Sans', sans-serif" font-size="11.6" font-weight="normal" fill="#333" textLength="19.4" lengthAdjust="spacingAndGlyphs" stroke="#333" stroke-width="0.35">400</text>
<line x1="279" y1="551.8" x2="279" y2="555.3" stroke="#4a4a4a" stroke-width="1.3" />
<text x="269.3" y="550.0" font-family="'Liberation Sans', sans-serif" font-size="11.6" font-weight="normal" fill="#333" textLength="19.4" lengthAdjust="spacingAndGlyphs" stroke="#333" stroke-width="0.35">600</text>
<line x1="358.6" y1="551.8" x2="358.6" y2="555.3" stroke="#4a4a4a" stroke-width="1.3" />
<text x="348.9" y="550.0" font-family="'Liberation Sans', sans-serif" font-size="11.6" font-weight="normal" fill="#333" textLength="19.4" lengthAdjust="spacingAndGlyphs" stroke="#333" stroke-width="0.35">800</text>
<line x1="439" y1="551.8" x2="439" y2="555.3" stroke="#4a4a4a" stroke-width="1.3" />
<text x="426.1" y="550.0" font-family="'Liberation Sans', sans-serif" font-size="11.6" font-weight="normal" fill="#333" textLength="25.8" lengthAdjust="spacingAndGlyphs" stroke="#333" stroke-width="0.35">1000</text>
<line x1="30.9" y1="606.6" x2="34.9" y2="606.6" stroke="#4a4a4a" stroke-width="1.3" />
<text x="2.5" y="612.6" font-family="'Liberation Sans', sans-serif" font-size="12.0" font-weight="normal" fill="#333" textLength="26.0" lengthAdjust="spacingAndGlyphs" stroke="#333" stroke-width="0.35">2940</text>
<line x1="30.9" y1="653.6" x2="34.9" y2="653.6" stroke="#4a4a4a" stroke-width="1.3" />
<text x="2.5" y="659.6" font-family="'Liberation Sans', sans-serif" font-size="12.0" font-weight="normal" fill="#333" textLength="26.0" lengthAdjust="spacingAndGlyphs" stroke="#333" stroke-width="0.35">2960</text>
<line x1="30.9" y1="700.5" x2="34.9" y2="700.5" stroke="#4a4a4a" stroke-width="1.3" />
<text x="2.5" y="706.5" font-family="'Liberation Sans', sans-serif" font-size="12.0" font-weight="normal" fill="#333" textLength="26.0" lengthAdjust="spacingAndGlyphs" stroke="#333" stroke-width="0.35">2980</text>
<line x1="30.9" y1="747" x2="34.9" y2="747" stroke="#4a4a4a" stroke-width="1.3" />
<text x="2.5" y="753.0" font-family="'Liberation Sans', sans-serif" font-size="12.0" font-weight="normal" fill="#333" textLength="26.0" lengthAdjust="spacingAndGlyphs" stroke="#333" stroke-width="0.35">3000</text>
<line x1="30.9" y1="793.2" x2="34.9" y2="793.2" stroke="#4a4a4a" stroke-width="1.3" />
<text x="2.5" y="799.2" font-family="'Liberation Sans', sans-serif" font-size="12.0" font-weight="normal" fill="#333" textLength="26.0" lengthAdjust="spacingAndGlyphs" stroke="#333" stroke-width="0.35">3020</text>
<line x1="30.9" y1="839.2" x2="34.9" y2="839.2" stroke="#4a4a4a" stroke-width="1.3" />
<text x="2.5" y="845.2" font-family="'Liberation Sans', sans-serif" font-size="12.0" font-weight="normal" fill="#333" textLength="26.0" lengthAdjust="spacingAndGlyphs" stroke="#333" stroke-width="0.35">3040</text>
<line x1="30.9" y1="885.9" x2="34.9" y2="885.9" stroke="#4a4a4a" stroke-width="1.3" />
<text x="2.5" y="891.9" font-family="'Liberation Sans', sans-serif" font-size="12.0" font-weight="normal" fill="#333" textLength="26.0" lengthAdjust="spacingAndGlyphs" stroke="#333" stroke-width="0.35">3060</text>
<text x="488.4" y="551.5" font-family="'Liberation Sans', sans-serif" font-size="11.6" font-weight="normal" fill="#333" stroke="#333" stroke-width="0.2">L</text>
<line x1="169.5" y1="533" x2="169.5" y2="870.5" stroke="#3a3a3a" stroke-width="1.3" />
<path d="M153,786.5 L160,812 L169.3,845.8 L157,847.5" fill="none" stroke="#506070" stroke-width="1.4"/>
<text x="141.4" y="786.4" font-family="'Liberation Serif', serif" font-size="16.0" font-weight="bold" fill="#111" textLength="62.4" lengthAdjust="spacingAndGlyphs" >HU2006</text>
<rect x="432.3" y="558" width="67.19999999999999" height="106.20000000000005" fill="#fff" stroke="#555" stroke-width="1"/>
<line x1="432.3" y1="584.9" x2="499.5" y2="584.9" stroke="#555" stroke-width="1" />
<line x1="470.6" y1="558" x2="470.6" y2="584.9" stroke="#555" stroke-width="1" />
<rect x="481.7" y="586.4" width="9.199999999999989" height="77.10000000000002" fill="url(#cbar)"/>
<text x="433.0" y="569.5" font-family="'Liberation Sans', sans-serif" font-size="12.3" font-weight="normal" fill="#333" textLength="35.6" lengthAdjust="spacingAndGlyphs" >Satu...</text>
<text x="437.7" y="582.6" font-family="'Liberation Sans', sans-serif" font-size="12.3" font-weight="normal" fill="#333" textLength="27.7" lengthAdjust="spacingAndGlyphs" >(Cr...</text>
<path d="M479.4,566.0 L488.9,575.5 M479.4,575.5 L488.9,566.0" stroke="#111" stroke-width="1.90"/>
<text x="436.3" y="596.9" font-family="'Liberation Sans', sans-serif" font-size="12.3" font-weight="normal" fill="#3a3a3a" textLength="42.2" lengthAdjust="spacingAndGlyphs" >0.70000</text>
<text x="436.3" y="608.8" font-family="'Liberation Sans', sans-serif" font-size="12.3" font-weight="normal" fill="#3a3a3a" textLength="42.2" lengthAdjust="spacingAndGlyphs" >0.52500</text>
<text x="436.3" y="629.1" font-family="'Liberation Sans', sans-serif" font-size="12.3" font-weight="normal" fill="#3a3a3a" textLength="42.2" lengthAdjust="spacingAndGlyphs" >0.35000</text>
<text x="436.3" y="648.8" font-family="'Liberation Sans', sans-serif" font-size="12.3" font-weight="normal" fill="#3a3a3a" textLength="42.2" lengthAdjust="spacingAndGlyphs" >0.17500</text>
<text x="436.3" y="662.6" font-family="'Liberation Sans', sans-serif" font-size="12.3" font-weight="normal" fill="#3a3a3a" textLength="42.2" lengthAdjust="spacingAndGlyphs" >0.00000</text>
<path d="M616.5,647.2 L625.6,641.6 L636.7,635.8 L653.9,626.4 L671.8,618.3 L691.7,611.2 L718.4,604.5 L738.4,600.8 L762.5,599.0 L788.3,597.8 L816.3,592.5 L828.3,591.2 L842.7,590.4 L845.5,584.5 L849.3,589.5 L874.8,599.5 L899.3,612.2 L921.6,625.8 L946.5,635.5 L968.2,645.9 L993.7,660.9 L1007.9,671.0 L1023.7,682.8 L1024.4,905.0 L1001.0,904.8 L985.0,895.0 L967.7,884.4 L945.0,876.5 L921.0,868.9 L924.5,886.8 L905.0,877.0 L883.8,866.5 L857.5,858.0 L830.0,852.0 L807.3,850.3 L780.0,854.0 L755.4,860.7 L740.0,865.5 L725.7,870.5 L668.9,887.8 L616.2,903.2Z" fill="#ffa800" />
<path d="M616.5,647.2 L625.6,641.6 L636.7,635.8 L653.9,626.4 L671.8,618.3 L691.7,611.2 L718.4,604.5 L738.4,600.8 L762.5,599.0 L788.3,597.8 L816.3,592.5 L828.3,591.2 L842.7,590.4 L845.5,584.5 L849.3,589.5 L874.8,599.5 L899.3,612.2 L921.6,625.8 L946.5,635.5 L968.2,645.9 L993.7,660.9 L1007.9,671.0 L1023.7,682.8 L1023.7,835.3 L951.3,835.3 L902.2,833.3 L852.1,830.2 L814.4,830.2 L710.6,830.2 L616.5,833.3Z" fill="#ff8c00" />
<path d="M616.5,647.2 L625.6,641.6 L636.7,635.8 L653.9,626.4 L671.8,618.3 L691.7,611.2 L718.4,604.5 L738.4,600.8 L762.5,599.0 L788.3,597.8 L816.3,592.5 L828.3,591.2 L842.7,590.4 L845.5,584.5 L849.3,589.5 L874.8,599.5 L899.3,612.2 L921.6,625.8 L946.5,635.5 L968.2,645.9 L993.7,660.9 L1007.9,671.0 L1023.7,682.8 L1023.7,827.2 L951.3,825.2 L902.2,821.1 L852.1,816.0 L814.4,818.1 L710.6,821.1 L616.5,825.2Z" fill="#ff6e00" />
<path d="M616.5,647.2 L625.6,641.6 L636.7,635.8 L653.9,626.4 L671.8,618.3 L691.7,611.2 L718.4,604.5 L738.4,600.8 L762.5,599.0 L788.3,597.8 L816.3,592.5 L828.3,591.2 L842.7,590.4 L845.5,584.5 L849.3,589.5 L874.8,599.5 L899.3,612.2 L921.6,625.8 L946.5,635.5 L968.2,645.9 L993.7,660.9 L1007.9,671.0 L1023.7,682.8 L1023.7,821.1 L951.3,815.0 L902.2,808.9 L852.1,803.9 L814.4,806.9 L710.6,811.0 L616.5,815.0Z" fill="#ff5600" />
<path d="M616.5,647.2 L625.6,641.6 L636.7,635.8 L653.9,626.4 L671.8,618.3 L691.7,611.2 L718.4,604.5 L738.4,600.8 L762.5,599.0 L788.3,597.8 L816.3,592.5 L828.3,591.2 L842.7,590.4 L845.5,584.5 L849.3,589.5 L874.8,599.5 L899.3,612.2 L921.6,625.8 L946.5,635.5 L968.2,645.9 L993.7,660.9 L1007.9,671.0 L1023.7,682.8 L1023.7,811.0 L951.3,803.9 L902.2,796.8 L852.1,790.7 L814.4,794.7 L710.6,797.8 L616.5,801.8Z" fill="#ff4000" />
<path d="M616.5,647.2 L625.6,641.6 L636.7,635.8 L653.9,626.4 L671.8,618.3 L691.7,611.2 L718.4,604.5 L738.4,600.8 L762.5,599.0 L788.3,597.8 L816.3,592.5 L828.3,591.2 L842.7,590.4 L845.5,584.5 L849.3,589.5 L874.8,599.5 L899.3,612.2 L921.6,625.8 L946.5,635.5 L968.2,645.9 L993.7,660.9 L1007.9,671.0 L1023.7,682.8 L1023.7,799.8 L951.3,792.7 L902.2,783.6 L852.1,778.5 L814.4,781.6 L710.6,784.6 L616.5,788.7Z" fill="#ff2e00" />
<path d="M616.5,647.2 L625.6,641.6 L636.7,635.8 L653.9,626.4 L671.8,618.3 L691.7,611.2 L718.4,604.5 L738.4,600.8 L762.5,599.0 L788.3,597.8 L816.3,592.5 L828.3,591.2 L842.7,590.4 L845.5,584.5 L849.3,589.5 L874.8,599.5 L899.3,612.2 L921.6,625.8 L946.5,635.5 L968.2,645.9 L993.7,660.9 L1007.9,671.0 L1023.7,682.8 L1023.7,789.7 L951.3,780.5 L902.2,772.4 L852.1,768.4 L814.4,768.4 L710.6,770.4 L616.5,774.5Z" fill="#ff1e00" />
<path d="M616.5,647.2 L625.6,641.6 L636.7,635.8 L653.9,626.4 L671.8,618.3 L691.7,611.2 L718.4,604.5 L738.4,600.8 L762.5,599.0 L788.3,597.8 L816.3,592.5 L828.3,591.2 L842.7,590.4 L845.5,584.5 L849.3,589.5 L874.8,599.5 L899.3,612.2 L921.6,625.8 L946.5,635.5 L968.2,645.9 L993.7,660.9 L1007.9,671.0 L1023.7,682.8 L1023.7,758.2 L993.7,740.0 L968.2,725.8 L944.9,713.6 L922.9,705.5 L879.5,683.5 L872.6,679.8 L870.1,686.0 L839.9,684.7 L805.0,679.8 L781.4,672.0 L765.0,672.0 L753.0,674.6 L738.4,679.8 L705.8,685.2 L671.8,693.5 L644.5,704.5 L616.5,717.4Z" fill="#ff5404" />
<path d="M616.5,647.2 L625.6,641.6 L636.7,635.8 L653.9,626.4 L671.8,618.3 L691.7,611.2 L718.4,604.5 L738.4,600.8 L762.5,599.0 L788.3,597.8 L816.3,592.5 L828.3,591.2 L842.7,590.4 L845.5,584.5 L849.3,589.5 L874.8,599.5 L899.3,612.2 L921.6,625.8 L946.5,635.5 L968.2,645.9 L993.7,660.9 L1007.9,671.0 L1023.7,682.8 L1023.7,758.2 L993.7,740.0 L968.2,725.8 L944.9,713.6 L922.9,705.5 L879.5,683.5 L872.6,679.8 L870.1,686.0 L839.9,684.7 L805.0,679.8 L781.4,672.0 L765.0,672.0 L753.0,674.6 L738.4,679.8 L705.8,685.2 L671.8,693.5 L644.5,704.5 L616.5,717.4Z" fill="#ff5404" />
<path d="M616.5,861.0 L720.8,837.2 L725.7,870.5 L668.9,887.8 L616.2,903.2Z" fill="#0000ec" />
<path d="M879.0,848.5 L900.6,835.3 L905.4,862.9 L912.6,845.0 L934.0,830.5 L979.6,836.5 L994.0,843.7 L1023.7,846.0 L1024.4,905.0 L1001.0,904.8 L985.0,895.0 L967.7,884.4 L945.0,876.5 L921.0,868.9 L924.5,886.8 L905.0,877.0 L883.8,866.5Z" fill="#0000ec" />
<path d="M616.5,832.0 L634.0,832.0 L637.0,855.5 L616.5,861.0Z" fill="#58e840" />
<path d="M616.5,832.0 L623.0,832.0 L625.0,859.0 L616.5,861.0Z" fill="#20f0b0" />
<path d="M636.0,832.0 L641.0,832.0 L643.0,854.0 L637.0,855.5Z" fill="#f8e000" />
<path d="M720.8,836.0 L734.4,834.0 L734.4,866.0 L725.7,870.5Z" fill="#20a0f8" />
<path d="M734.4,833.5 L753.0,833.5 L755.4,860.7 L740.0,865.5 L734.4,866.0Z" fill="#50e840" />
<path d="M734.4,833.5 L742.0,833.5 L742.0,864.5 L734.4,866.0Z" fill="#20f0b0" />
<path d="M753.0,833.0 L760.0,832.5 L762.0,858.5 L755.4,860.7Z" fill="#f0f000" />
<path d="M855.0,840.0 L864.0,838.0 L870.0,862.0 L861.0,860.0Z" fill="#e8f000" />
<path d="M864.0,838.0 L882.6,840.0 L882.6,865.0 L870.0,862.0Z" fill="#30e8a0" />
<path d="M874.0,824.5 L886.0,826.0 L894.0,862.0 L884.0,860.0Z" fill="#f0f000" />
<path d="M886.0,826.0 L900.6,835.3 L905.4,862.9 L894.0,862.0Z" fill="#30f0a8" />
<path d="M912.6,822.0 L920.0,823.0 L928.0,850.0 L918.0,848.0Z" fill="#f0f000" />
<path d="M920.0,823.0 L934.0,830.5 L939.0,858.0 L928.0,850.0Z" fill="#38e860" />
<path d="M977.0,812.0 L1023.7,810.0 L1023.7,846.0 L1000.0,845.0 L990.0,843.0 L977.0,836.0Z" fill="#c8e820" />
<path d="M977.0,814.0 L990.0,814.0 L994.0,838.0 L982.0,836.0Z" fill="#f4f000" />
<path d="M985.0,832.0 L995.0,833.0 L998.0,846.0 L988.0,845.0Z" fill="#60e860" />
<path d="M1005.0,825.0 L1023.7,822.0 L1023.7,846.0 L1010.0,845.0Z" fill="#80e840" />
<path d="M1014.0,836.0 L1023.7,835.0 L1023.7,846.0 L1016.0,846.0Z" fill="#30e8a8" />
<line x1="607.8" y1="554" x2="1032.3" y2="554" stroke="#5a5a5a" stroke-width="1.5" />
<line x1="607.8" y1="554" x2="607.8" y2="905" stroke="#5a5a5a" stroke-width="1.5" />
<line x1="615.7" y1="554" x2="615.7" y2="557.5" stroke="#4a4a4a" stroke-width="1.3" />
<text x="612.5" y="552.2" font-family="'Liberation Sans', sans-serif" font-size="11.6" font-weight="normal" fill="#333" textLength="6.5" lengthAdjust="spacingAndGlyphs" stroke="#333" stroke-width="0.35">0</text>
<line x1="691.6" y1="554" x2="691.6" y2="557.5" stroke="#4a4a4a" stroke-width="1.3" />
<text x="681.9" y="552.2" font-family="'Liberation Sans', sans-serif" font-size="11.6" font-weight="normal" fill="#333" textLength="19.4" lengthAdjust="spacingAndGlyphs" stroke="#333" stroke-width="0.35">200</text>
<line x1="767" y1="554" x2="767" y2="557.5" stroke="#4a4a4a" stroke-width="1.3" />
<text x="757.3" y="552.2" font-family="'Liberation Sans', sans-serif" font-size="11.6" font-weight="normal" fill="#333" textLength="19.4" lengthAdjust="spacingAndGlyphs" stroke="#333" stroke-width="0.35">400</text>
<line x1="842.4" y1="554" x2="842.4" y2="557.5" stroke="#4a4a4a" stroke-width="1.3" />
<text x="832.7" y="552.2" font-family="'Liberation Sans', sans-serif" font-size="11.6" font-weight="normal" fill="#333" textLength="19.4" lengthAdjust="spacingAndGlyphs" stroke="#333" stroke-width="0.35">600</text>
<line x1="917.4" y1="554" x2="917.4" y2="557.5" stroke="#4a4a4a" stroke-width="1.3" />
<text x="907.7" y="552.2" font-family="'Liberation Sans', sans-serif" font-size="11.6" font-weight="normal" fill="#333" textLength="19.4" lengthAdjust="spacingAndGlyphs" stroke="#333" stroke-width="0.35">800</text>
<line x1="992.8" y1="554" x2="992.8" y2="557.5" stroke="#4a4a4a" stroke-width="1.3" />
<text x="979.9" y="552.2" font-family="'Liberation Sans', sans-serif" font-size="11.6" font-weight="normal" fill="#333" textLength="25.8" lengthAdjust="spacingAndGlyphs" stroke="#333" stroke-width="0.35">1000</text>
<line x1="607.3" y1="610.8" x2="611.3" y2="610.8" stroke="#4a4a4a" stroke-width="1.3" />
<text x="578.9" y="616.8" font-family="'Liberation Sans', sans-serif" font-size="12.0" font-weight="normal" fill="#333" textLength="26.0" lengthAdjust="spacingAndGlyphs" stroke="#333" stroke-width="0.35">2940</text>
<line x1="607.3" y1="657.3" x2="611.3" y2="657.3" stroke="#4a4a4a" stroke-width="1.3" />
<text x="578.9" y="663.3" font-family="'Liberation Sans', sans-serif" font-size="12.0" font-weight="normal" fill="#333" textLength="26.0" lengthAdjust="spacingAndGlyphs" stroke="#333" stroke-width="0.35">2960</text>
<line x1="607.3" y1="704.2" x2="611.3" y2="704.2" stroke="#4a4a4a" stroke-width="1.3" />
<text x="578.9" y="710.2" font-family="'Liberation Sans', sans-serif" font-size="12.0" font-weight="normal" fill="#333" textLength="26.0" lengthAdjust="spacingAndGlyphs" stroke="#333" stroke-width="0.35">2980</text>
<line x1="607.3" y1="751.4" x2="611.3" y2="751.4" stroke="#4a4a4a" stroke-width="1.3" />
<text x="578.9" y="757.4" font-family="'Liberation Sans', sans-serif" font-size="12.0" font-weight="normal" fill="#333" textLength="26.0" lengthAdjust="spacingAndGlyphs" stroke="#333" stroke-width="0.35">3000</text>
<line x1="607.3" y1="798.9" x2="611.3" y2="798.9" stroke="#4a4a4a" stroke-width="1.3" />
<text x="578.9" y="804.9" font-family="'Liberation Sans', sans-serif" font-size="12.0" font-weight="normal" fill="#333" textLength="26.0" lengthAdjust="spacingAndGlyphs" stroke="#333" stroke-width="0.35">3020</text>
<line x1="607.3" y1="845.8" x2="611.3" y2="845.8" stroke="#4a4a4a" stroke-width="1.3" />
<text x="578.9" y="851.8" font-family="'Liberation Sans', sans-serif" font-size="12.0" font-weight="normal" fill="#333" textLength="26.0" lengthAdjust="spacingAndGlyphs" stroke="#333" stroke-width="0.35">3040</text>
<line x1="607.3" y1="894" x2="611.3" y2="894" stroke="#4a4a4a" stroke-width="1.3" />
<text x="578.9" y="900.0" font-family="'Liberation Sans', sans-serif" font-size="12.0" font-weight="normal" fill="#333" textLength="26.0" lengthAdjust="spacingAndGlyphs" stroke="#333" stroke-width="0.35">3060</text>
<text x="1040.7" y="553.5" font-family="'Liberation Sans', sans-serif" font-size="11.6" font-weight="normal" fill="#333" stroke="#333" stroke-width="0.2">L</text>
<line x1="733.6" y1="540" x2="733.6" y2="880" stroke="#6a6050" stroke-width="1.4" />
<path d="M723.2,791.5 Q733,820 733,848 L728,855.7" fill="none" stroke="#333" stroke-width="2.6"/>
<path d="M723.2,791.5 Q733,820 733,848 L728,855.7" fill="none" stroke="#ece4a0" stroke-width="1.2"/>
<text x="706.8" y="791.8" font-family="'Liberation Serif', serif" font-size="17.3" font-weight="bold" fill="#111" textLength="62.5" lengthAdjust="spacingAndGlyphs" >HU2006</text>
<rect x="982.5" y="558.3" width="63.700000000000045" height="107.5" fill="#fff" stroke="#555" stroke-width="1"/>
<line x1="982.5" y1="586.3" x2="1046.2" y2="586.3" stroke="#555" stroke-width="1" />
<line x1="1018.7" y1="558.3" x2="1018.7" y2="586.3" stroke="#555" stroke-width="1" />
<rect x="1029.5" y="586.8" width="8.799999999999955" height="78.5" fill="url(#cbar)"/>
<text x="982.8" y="569.5" font-family="'Liberation Sans', sans-serif" font-size="12.3" font-weight="normal" fill="#333" textLength="34.0" lengthAdjust="spacingAndGlyphs" >Satu...</text>
<text x="988.0" y="583.2" font-family="'Liberation Sans', sans-serif" font-size="12.3" font-weight="normal" fill="#333" textLength="26.4" lengthAdjust="spacingAndGlyphs" >(Cr...</text>
<path d="M1027.2,567.2 L1036.7,576.8 M1027.2,576.8 L1036.7,567.2" stroke="#111" stroke-width="1.90"/>
<text x="986.1" y="597.7" font-family="'Liberation Sans', sans-serif" font-size="12.3" font-weight="normal" fill="#3a3a3a" textLength="40.4" lengthAdjust="spacingAndGlyphs" >0.70000</text>
<text x="986.1" y="610.0" font-family="'Liberation Sans', sans-serif" font-size="12.3" font-weight="normal" fill="#3a3a3a" textLength="40.4" lengthAdjust="spacingAndGlyphs" >0.52500</text>
<text x="986.1" y="630.1" font-family="'Liberation Sans', sans-serif" font-size="12.3" font-weight="normal" fill="#3a3a3a" textLength="40.4" lengthAdjust="spacingAndGlyphs" >0.35000</text>
<text x="986.1" y="650.0" font-family="'Liberation Sans', sans-serif" font-size="12.3" font-weight="normal" fill="#3a3a3a" textLength="40.4" lengthAdjust="spacingAndGlyphs" >0.17500</text>
<text x="986.1" y="664.4" font-family="'Liberation Sans', sans-serif" font-size="12.3" font-weight="normal" fill="#3a3a3a" textLength="40.4" lengthAdjust="spacingAndGlyphs" >0.00000</text>
<text x="27.0" y="21.3" font-family="'Liberation Serif', serif" font-size="28.5" font-weight="normal" fill="#111" textLength="35.4" lengthAdjust="spacingAndGlyphs" >(a)</text>
<text x="600.8" y="21.0" font-family="'Liberation Serif', serif" font-size="27.0" font-weight="normal" fill="#111" textLength="37.3" lengthAdjust="spacingAndGlyphs" >(b)</text>
<text x="28.2" y="254.6" font-family="'Liberation Serif', serif" font-size="28.1" font-weight="normal" fill="#111" textLength="33.2" lengthAdjust="spacingAndGlyphs" >(c)</text>
<text x="603.2" y="256.1" font-family="'Liberation Serif', serif" font-size="27.8" font-weight="normal" fill="#111" textLength="36.3" lengthAdjust="spacingAndGlyphs" >(d)</text>
<text x="31.0" y="583.8" font-family="'Liberation Serif', serif" font-size="29.1" font-weight="normal" fill="#111" textLength="35.1" lengthAdjust="spacingAndGlyphs" >(e)</text>
<text x="608.8" y="584.0" font-family="'Liberation Serif', serif" font-size="29.0" font-weight="normal" fill="#111" textLength="32.1" lengthAdjust="spacingAndGlyphs" >(f)</text>
</svg>
</body></html>
